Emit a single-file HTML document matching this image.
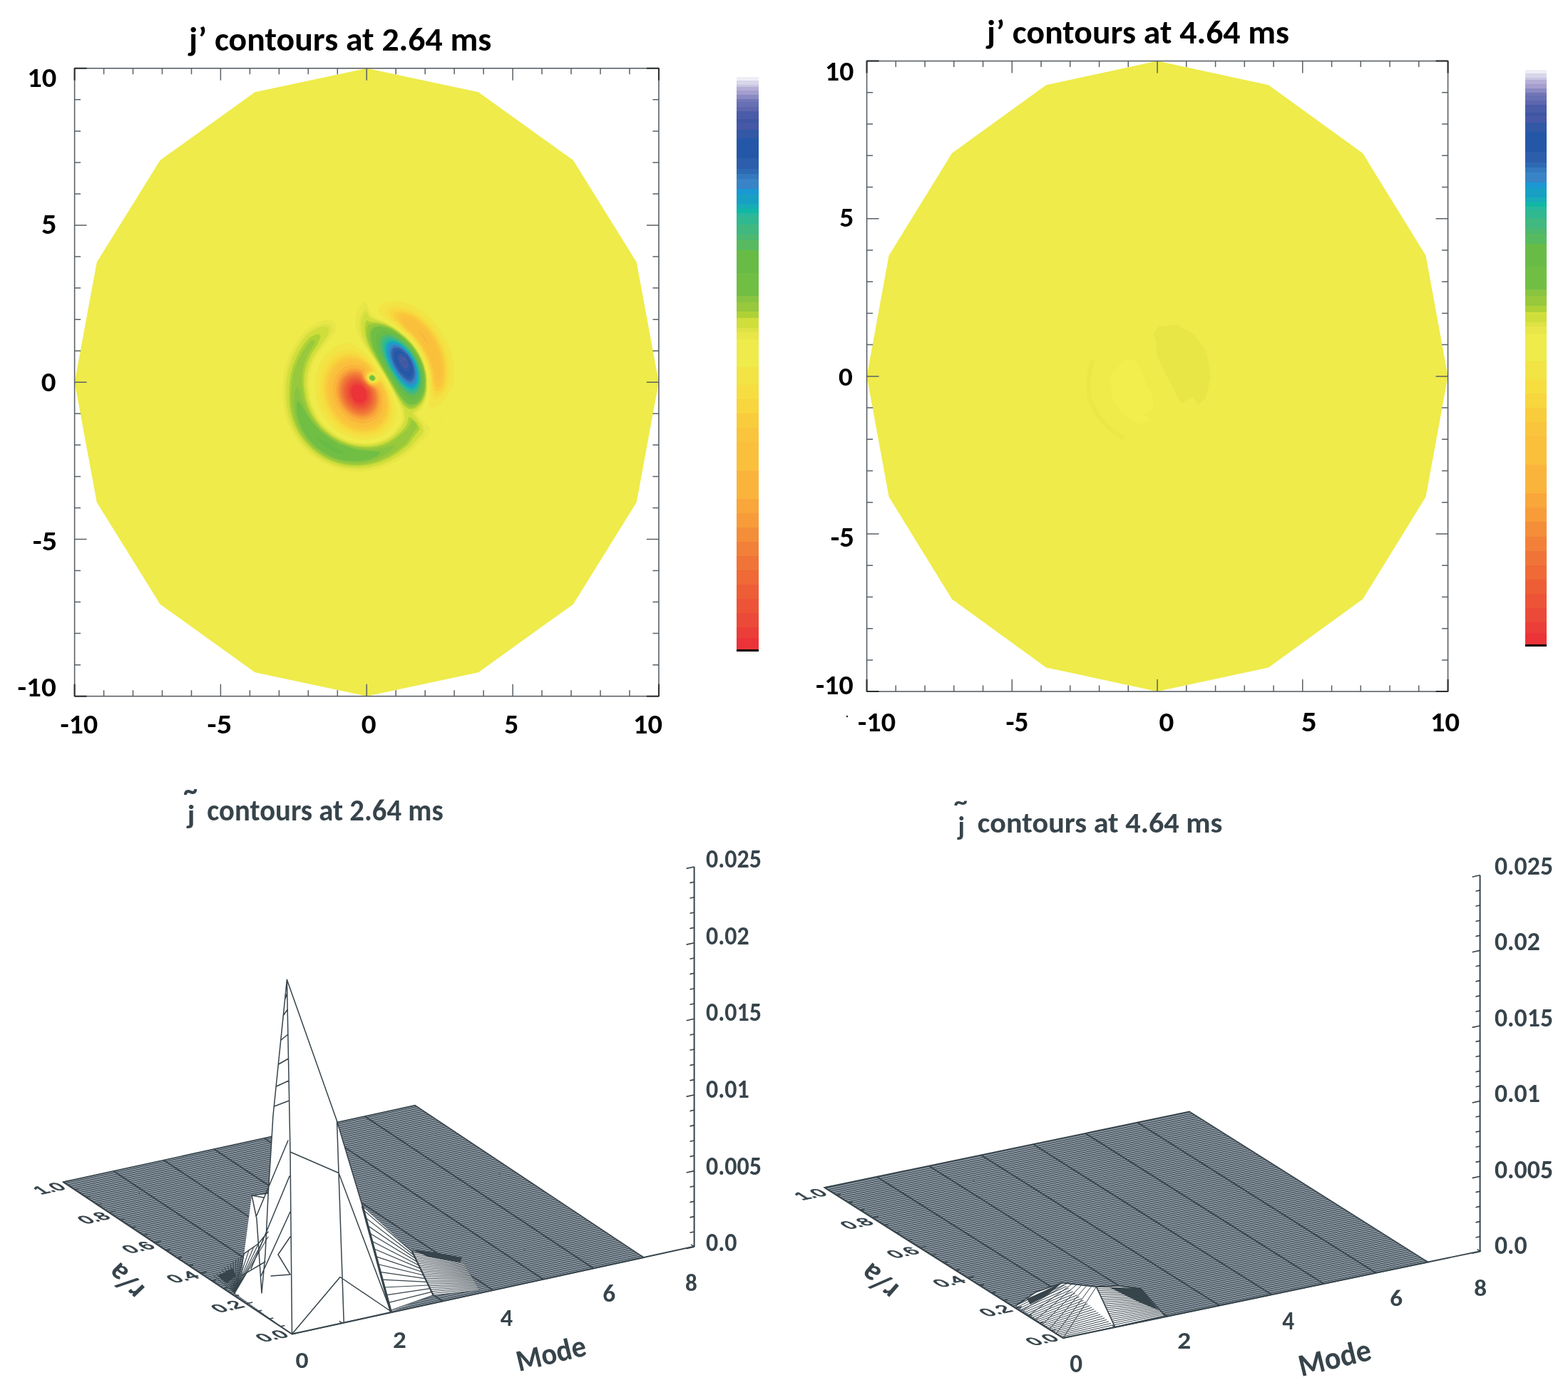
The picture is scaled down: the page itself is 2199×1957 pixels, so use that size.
<!DOCTYPE html><html><head><meta charset="utf-8"><title>j contours</title><style>html,body{margin:0;padding:0;background:#fff;width:2199px;height:1957px;overflow:hidden}svg{display:block;font-family:Carlito, 'Liberation Sans', sans-serif;font-weight:bold}</style></head><body>
<svg width="2199" height="1957" viewBox="0 0 2199 1957">
<rect width="2199" height="1957" fill="#fff"/>
<polygon points="514.2,95.8 357.5,129.3 224.6,224.8 135.8,367.7 104.6,536.2 135.8,704.8 224.6,847.7 357.5,943.2 514.2,976.7 671,943.2 803.9,847.7 892.7,704.8 923.9,536.3 892.7,367.7 803.9,224.8 671,129.3" fill="#EEEB4A"/>
<path d="M498.0 539.8l4 -0.5 4 1.3 4.3 3.4 1.7 2.3 1.8 3.7 0.7 6 -0.9 4 -1.6 2.5 -4 2.7 -4 0.4 -4.6 -1.6 -3.4 -2.8 -3.2 -5.2 -1.1 -6 0.6 -4 2.4 -4 3.3 -2.2z" fill="#EC3338" stroke="#EC3338" stroke-width="0.7" fill-rule="evenodd"/>
<path d="M496.0 538.0l2 -0.8 4 -0.2 4 1.3 6 5.2 3 4.5 1.5 6 -0.5 5.7 -2.2 4.3 -3.8 3.1 -4 0.9 -6 -1.2 -4.1 -2.8 -4.4 -6 -1.8 -6 0.3 -6 2 -4.5 4 -3.5zM497.5 540.0l-3.5 2.8 -2.2 5.2 0.2 5.4 1.7 4.6 4.3 5.1 4 2.1 4 0.4 4 -1.3 2.4 -2.3 1.8 -4 0.1 -6 -1.3 -4 -3 -4.3 -4 -3.1 -4 -1.3 -4.5 0.7z" fill="#EC3E38" stroke="#EC3E38" stroke-width="0.7" fill-rule="evenodd"/>
<path d="M494.0 535.8l4 -1.5 4 0 2 0.5 2 1 4 3.2 6.2 7 2.3 6 0.4 4 -0.4 4 -2.5 5.7 -4 3.6 -2 0.9 -4 0.6 -6 -1.2 -6 -4 -4.2 -5.6 -2.2 -6 -0.4 -4 0.2 -4 2.3 -6 4.3 -4.2zM495.9 538.0l-3.9 3.5 -2 4.5 -0.3 6 1.8 6 4.4 6 4.1 2.8 6 1.2 4 -0.9 3.8 -3.1 2.2 -4.3 0.5 -5.7 -1.5 -6 -3 -4.5 -6 -5.2 -2 -0.9 -4 -0.5 -4.1 1.1z" fill="#EC4A38" stroke="#EC4A38" stroke-width="0.7" fill-rule="evenodd"/>
<path d="M498.0 531.7l4 0.1 2 0.6 4 2.8 8.7 8.8 1.6 2 1.8 4 0.9 8 -1.3 6 -1.7 3.2 -2 2.4 -3.5 2.4 -2.5 0.9 -6 0.3 -4 -1 -4 -2.1 -4 -3.4 -2.2 -2.7 -2.4 -4 -1.5 -4 -1 -8 0.6 -4 1.4 -4 2.7 -4 2.3 -2 2.1 -1.2 4 -1.1zM493.7 536.0l-4 4 -2.3 6 -0.2 4 0.4 4 2.2 6 4.2 5.6 6 4 6 1.2 4 -0.6 2 -0.9 4 -3.6 2.5 -5.7 0.4 -4 -0.4 -4 -2.3 -6 -6.2 -7 -4 -3.2 -2 -1 -2 -0.5 -4 0 -4.3 1.7z" fill="#ED5437" stroke="#ED5437" stroke-width="0.7" fill-rule="evenodd"/>
<path d="M496.0 529.5l6 0 4 1.9 12.5 12.6 1.6 2 1.9 4 1 8 -0.4 4 -1.3 4 -3.3 5 -2 1.8 -4 2.1 -4 0.9 -4 -0.2 -4 -1 -4 -1.9 -4 -3.1 -3.3 -3.6 -2.5 -4 -1.8 -4 -1.1 -4 -0.5 -6 0.4 -4 1.2 -4 3.7 -6 3.9 -3 4 -1.5zM496.3 532.0l-4.3 1.9 -2 1.7 -2 2.4 -2 4 -0.9 4 -0.2 4 1.7 8 1.9 4 2.9 4 2.6 2.6 4 2.7 4 1.5 4 0.6 6 -1.2 3.5 -2.2 1.9 -2 3 -6 0.6 -4 -0.1 -4 -1.6 -6 -2.6 -4 -10.7 -10.5 -4 -1.7 -5.7 0.2z" fill="#EE5E36" stroke="#EE5E36" stroke-width="0.7" fill-rule="evenodd"/>
<path d="M494.0 527.6l6 -0.6 4 1 2 1.3 7.3 8.7 6.9 6 2.9 4 1.2 4 0.6 6 -1.3 8 -3.6 6.2 -2 2 -4 2.5 -4 1.2 -4 0.2 -6 -1.2 -4 -1.8 -4 -2.8 -4 -4 -2.9 -4.3 -2 -4 -1.3 -4 -1 -6 0.3 -6 0.9 -4 2 -4.3 2.8 -3.7 3.2 -2.6 4 -1.8zM494.4 530.0l-3.9 2 -2.5 2.1 -2 2.7 -2 4.2 -1.1 5 -0.1 4 1.6 8 1.8 4 2.5 4 3.3 3.6 4 3.1 4 1.9 4 1 4 0.2 4 -0.9 4 -2.1 2 -1.8 2.3 -3 1.7 -3.9 0.9 -4.1 0.1 -4 -0.5 -4 -1.2 -4 -2.8 -4 -12.5 -12.6 -2 -1.2 -4 -1 -5.6 0.8z" fill="#EF6A37" stroke="#EF6A37" stroke-width="0.7" fill-rule="evenodd"/>
<path d="M492.0 525.9l4 -1.1 4 0 4 1 2 1.3 6.5 8.9 3.5 3.5 5.9 4.5 2.9 4 1.3 4 0.6 6 -0.5 6 -1.2 4 -2.1 4 -2.9 3.5 -6 3.7 -4 1 -4 0.2 -6 -1.2 -4 -1.7 -5.1 -3.5 -4 -4 -2.9 -4 -3 -6 -1.2 -4 -1 -6 0.2 -6 1 -4.6 1.3 -3.4 2.7 -4.2 4 -3.8 4 -2.1zM493.0 528.0l-3.8 2 -3.2 2.9 -2.2 3.1 -1.8 4 -0.9 4 -0.3 6 1 6 1.3 4 2 4 2.9 4.3 4 4 4 2.8 4 1.8 6 1.2 4 -0.2 4 -1.2 4 -2.5 2 -2 3.6 -6.2 1.3 -8 -0.6 -6 -1.2 -4 -2.9 -4 -6.9 -6 -7.3 -8.7 -2 -1.3 -4 -1 -4 0.2 -3 0.8z" fill="#F07438" stroke="#F07438" stroke-width="0.7" fill-rule="evenodd"/>
<path d="M492.0 523.4l4 -0.8 4 0 4 1 2 1.2 2 2.4 2.5 4.8 2.8 4 2.7 2.7 7.6 5.3 3 4 1.2 4 0.7 6 -0.4 6 -0.9 4 -1.8 4 -2.8 4 -2.6 2.5 -4 2.4 -4 1.3 -6 0.4 -6 -1.2 -4 -1.6 -5.8 -3.8 -4.1 -4 -3 -4 -3.3 -6 -2 -6 -0.9 -6 0.1 -6 1.3 -6 2.8 -6 2.9 -3.6 4 -3.2 4 -1.8zM491.7 526.0l-3.7 2 -4 3.8 -2.7 4.2 -1.5 4 -0.8 4 -0.2 6 1 6 2.1 6 2.1 4 4 5.2 4 3.7 4 2.6 4 1.7 6 1.2 4 -0.2 4 -1 6 -3.7 2.9 -3.5 2.1 -4 1.2 -4 0.5 -6 -0.6 -6 -1.3 -4 -2.9 -4 -5.9 -4.5 -3.5 -3.5 -6.5 -8.9 -2 -1.3 -4 -1 -4 0 -4.3 1.2z" fill="#F28038" stroke="#F28038" stroke-width="0.7" fill-rule="evenodd"/>
<path d="M490.0 521.7l4 -1.1 4 -0.3 4 0.5 4 1.6 2 2.1 3.2 7.5 2.9 4 3.9 3.5 7.4 4.5 2.8 4 1.6 6 0.5 6 -0.6 6 -1.1 4 -1.9 4 -2.9 4 -3.8 3.3 -4 2.1 -4 1.1 -6 0.3 -6 -1.1 -6 -2.7 -6 -4.3 -4 -4.2 -3.2 -4.5 -3 -6 -2 -6 -0.9 -6 0 -6 1.2 -6 2.4 -6 2.8 -4 4.4 -4 4.3 -2.3zM490.5 524.0l-4.5 2.6 -3.4 3.4 -2.7 4 -2.2 6 -0.7 4 -0.1 6 0.9 6 2 6 3.3 6 3 4 4.1 4 5.8 3.8 4 1.6 6 1.2 6 -0.4 4 -1.3 4 -2.4 2.6 -2.5 2.8 -4 1.8 -4 0.9 -4 0.4 -6 -0.7 -6 -1.2 -4 -3 -4 -7.6 -5.3 -2.7 -2.7 -2.8 -4 -2.5 -4.8 -2 -2.4 -4 -1.9 -4 -0.4 -4 0.4 -3.5 1.1z" fill="#F48E38" stroke="#F48E38" stroke-width="0.7" fill-rule="evenodd"/>
<path d="M490.0 519.2l4 -0.9 4 -0.2 4 0.5 4 1.5 2.2 1.9 2.8 8 3.7 6 3.3 2.9 9.4 5.1 2.5 4 1.6 6 0.6 6 -0.5 6 -0.9 4 -1.6 4 -3.1 4.9 -4 3.8 -4 2.4 -6 1.8 -6 0.2 -6 -1.2 -6 -2.5 -5.1 -3.4 -4.9 -4.5 -4.2 -5.5 -3.3 -6 -2.1 -6 -1.5 -8 0.2 -8 1.4 -6 2.6 -6 2.9 -4 4.5 -4 5.5 -2.8zM489.3 522.0l-3.6 2 -4.4 4 -3.3 5 -2 5.2 -1.1 5.8 0.2 8 1.3 6 2.2 6 3.5 6 3.9 4.7 4 3.6 6 3.8 6 2.1 6 0.7 6 -0.9 4 -1.5 4 -2.7 3.4 -3.8 2.4 -4 1.4 -4 0.8 -4 0.2 -6 -0.8 -6 -1.2 -4 -2.8 -4 -7.4 -4.5 -3.9 -3.5 -2.9 -4 -3.2 -7.5 -2 -2.1 -4 -1.6 -4 -0.5 -4 0.3 -4.7 1.4z" fill="#F89C3A" stroke="#F89C3A" stroke-width="0.7" fill-rule="evenodd"/>
<path d="M494.0 515.9l8 0.5 6 2.6 2 2.5 1.7 8.5 2 4 4.3 4.2 8.4 3.8 2.9 2 1.4 2 1.5 4 1.2 6 0.4 6 -0.6 6 -1.7 6 -2.1 4 -3.4 4.3 -4 3.3 -6 2.8 -6 1 -6 -0.3 -8 -2.3 -6 -3.4 -6 -5 -4 -4.7 -4 -6.3 -3.1 -7.4 -1.8 -8 -0.3 -8 0.9 -6 2.3 -6.8 3 -5.2 5 -5.1 6 -3.5 6 -1.5zM488.0 520.0l-6 4 -3.6 4 -2.4 4.1 -2.1 5.9 -1 6 0 6 1.5 8 2.1 6 3.3 6 4.2 5.5 4.9 4.5 5.1 3.4 6 2.5 6 1.2 6 -0.2 6 -1.8 4 -2.4 4 -3.8 3.1 -4.9 1.6 -4 0.9 -4 0.5 -6 -0.6 -6 -1.6 -6 -2.5 -4 -9.4 -5.1 -3.3 -2.9 -3.7 -6 -2.8 -8 -2.2 -1.9 -4 -1.5 -4 -0.5 -6 0.6 -4 1.3z" fill="#F9A63A" stroke="#F9A63A" stroke-width="0.7" fill-rule="evenodd"/>
<path d="M586.0 463.1l2 0.9 4 3.8 6 7.7 4 7.4 0 2.7 -16.3 -21.6 0.3 -0.9zM490.0 511.6l4 -0.5 6 0.4 6 1.7 4.8 2.8 1.8 2 0.6 2 -0.7 8 1.1 4 1.2 2 3.2 3.2 2 1.2 10 2.7 1.4 0.9 1.6 2 1.8 4 2 8 0.6 6 -0.5 8 -1.5 6 -3 6 -4.4 5.2 -4 3.1 -6 2.7 -6 1.2 -8 -0.2 -8 -2.3 -6 -3 -6 -4.4 -6 -6.3 -5.3 -8 -3.5 -8 -2.1 -8 -0.7 -8 0.7 -8 2.3 -8 3.1 -6 5.5 -6.3 6 -4 6 -2.1zM493.7 516.0l-5.7 1.4 -6 3.5 -5 5.1 -3 5.2 -2.3 6.8 -0.9 6 0.3 8 1.8 8 3.1 7.4 4 6.3 4 4.7 6 5 6 3.4 8 2.3 6 0.3 6 -1 6 -2.8 4 -3.3 3.4 -4.3 2.1 -4 1.7 -6 0.6 -6 -0.4 -6 -1.2 -6 -1.5 -4 -1.4 -2 -2.9 -2 -8.4 -3.8 -4.3 -4.2 -2 -4 -1.7 -8.5 -2 -2.5 -6 -2.6 -4 -0.5 -4.3 0.1z" fill="#FAB43C" stroke="#FAB43C" stroke-width="0.7" fill-rule="evenodd"/>
<path d="M566.0 445.0l2 -0.4 4 0.2 6 1.6 8 5.6 6 5.3 6.3 6.7 5.7 7.5 4.1 6.5 6.4 14 2.5 8 1.6 8 0.7 8 -0.2 6 -1.1 6.8 -2 4.6 -2 0.8 -2 -2.9 -7.3 -23.3 -4.2 -10 -4.1 -8 -5 -8 -6 -8 -7.4 -7.9 -8 -7.2 -3.7 -4.9 -2.2 -4 -0.4 -2 0.6 -2 1.7 -1zM585.7 464.0l16.3 21.6 0 -2.7 -2 -4.1 -6 -8.8 -6 -6 -2 -0.9 -0.3 0.9zM490.0 506.0l6 -0.2 6 1.1 6 2.5 6.7 4.6 1.8 2 0.7 2 -0.4 2 -2.3 4 -0.9 4 1 4 1.3 2 2.1 2.1 4 2.1 10 0.5 2 1.3 2.5 4 2.2 6 1.9 8 0.8 8 -0.7 8 -1.7 6 -3 6 -4 4.9 -6 4.7 -6 2.7 -8 1.5 -8 -0.4 -8 -2.1 -8 -4 -8 -6.1 -6.5 -7.2 -5.1 -8 -4.2 -10 -1.9 -8 -0.8 -10 1.2 -10 2.6 -8 4.7 -8 6 -6 6 -3.7 8 -2.3zM488.4 512.0l-6.4 2.7 -6 4.9 -4.7 6.4 -2.7 6 -1.8 8 -0.3 8 1 8 2.4 8 3.9 8 5.9 8 6.3 5.9 6 3.9 6 2.7 8 1.7 8 -0.2 6 -1.7 6 -3.4 4 -3.7 3.6 -5.2 2.4 -6 1.2 -6 0.1 -8 -1.3 -8 -2 -6 -2.6 -4 -1.4 -0.9 -10 -2.7 -2 -1.2 -3.2 -3.2 -1.2 -2 -1.1 -4 0.7 -8 -0.6 -2 -2.6 -2.6 -4 -2.2 -6 -1.7 -6 -0.4 -5.6 0.9z" fill="#FAC03C" stroke="#FAC03C" stroke-width="0.7" fill-rule="evenodd"/>
<path d="M560.0 441.6l4 -1 6 0.6 8 2.5 4.2 2.3 7.8 6.1 8 7.9 6.5 8 6.3 10 4 8 3.7 10 2.1 8 1.4 10 0.2 10 -1.1 8 -2.3 8 -1.1 2 -1.7 1.3 -2 0.5 -2 -0.9 -2.1 -2.9 -2.6 -16 -2.6 -10 -3.5 -10 -5.7 -12 -4.8 -8 -6.7 -8.9 -6.6 -7.1 -8.9 -8 -8.3 -10 -2.1 -4 -0.1 -2 2 -2.4zM564.3 446.0l-0.6 2 0.4 2 3.6 6 2.3 2.9 8 7.2 7.4 7.9 9.9 14 5.2 10 4.2 10 7.3 23.3 2 2.9 2 -0.8 2 -4.6 1.1 -6.8 0.2 -6 -0.7 -8 -1.6 -8 -2.5 -8 -6.5 -14.1 -5.1 -7.9 -6.4 -8 -6.5 -6.6 -8 -6.5 -4 -2.5 -6 -1.6 -4 -0.2 -3.7 1.4zM486.0 503.5l6 -0.8 8 0.9 8 3.2 6 3.9 4 3.9 1.7 3.4 -0.8 2 -2.9 2.9 -1.5 3.1 -0.1 4 1.6 3.5 2.5 2.5 3.5 1.7 4 0.4 6 -1.1 2 0.7 3.2 4.3 2.5 6 2.7 10 1 8 -0.3 8 -1.3 6 -3.7 8 -4.1 5.2 -6 4.8 -6 2.8 -8 1.8 -8 0 -10 -2.3 -8 -3.7 -8 -5.8 -6.7 -6.8 -5.7 -8 -4.8 -10 -2.9 -10 -1.1 -10 0.6 -10 2.7 -10 4.1 -8 5.8 -6.9 6 -4.4 8 -3.2zM489.9 506.0l-7.9 2.3 -6 3.7 -6 6 -4.7 8 -2.6 8 -1.2 10 0.8 10 1.9 8 4.2 10 5.1 8 6.5 7.2 8 6.1 8 4 8 2.1 8 0.4 8 -1.5 6 -2.7 6 -4.7 4 -4.9 3 -6 1.7 -6 0.7 -8 -0.8 -8 -1.9 -8 -2.2 -6 -2.5 -4 -2 -1.3 -10 -0.5 -4 -2.1 -2.1 -2.1 -1.3 -2 -1 -4 0.9 -4 2.3 -4 0.4 -2 -0.7 -2 -1.8 -2 -6.7 -4.6 -6 -2.5 -6 -1.1 -6.1 0.2z" fill="#FAC43C" stroke="#FAC43C" stroke-width="0.7" fill-rule="evenodd"/>
<path d="M556.0 437.6l6 -0.7 6 0.8 8 2.4 7.6 3.9 8.4 6.7 8 8 7.4 9.3 6.2 10 4.7 10 3.4 10 2.2 10 1 10 -0.5 12 -2 10 -0.6 2 -1.8 2.8 -4 3.8 -2 0.7 -2 -0.4 -2 -2 -2 -4.4 -2.2 -16.5 -2.3 -10 -4 -12 -4.6 -10 -6.1 -10 -6.8 -8.9 -6 -6.3 -8 -7 -11.3 -11.8 -3.1 -4 -1.5 -4 0.5 -2 1.4 -1.5 2 -0.9zM559.3 442.0l-1.3 2 0.1 2 2.1 4 8.3 10 8.9 8 6.6 7.1 6.7 8.9 4.8 8 5.7 12 3.5 10 2.6 10 2.6 16 2.1 2.9 2 0.9 2 -0.5 1.7 -1.3 1.1 -2 2.3 -8 1.1 -8 -0.2 -10 -1.4 -10 -2.1 -8 -3.7 -10 -4 -8 -6.3 -10 -6.5 -8 -8 -7.9 -8 -6.2 -6 -3 -8 -2.1 -6 0.1 -2.7 1.1zM486.0 499.8l8 -0.4 8 1.8 8 4 6 4.6 4.1 4.2 2.3 4 -0.7 2 -3.7 2.2 -2.9 3.8 -0.3 4 1.2 2.8 2 2.3 2 1.4 4 1 4 -0.6 4 -1.7 2 0.2 2 1.7 1.9 2.9 3.5 8 2.9 10 1.3 8 0 8 -1.5 8 -3.5 8 -4.6 5.9 -6 4.7 -6 3 -8 2 -10 0.2 -10 -2.2 -10 -4.7 -8 -5.8 -8 -8.4 -5.8 -8.7 -4.6 -10 -2.8 -10 -1.2 -12 0.8 -10 2.8 -10 4.8 -9.1 6 -6.9 8 -5.5 8 -2.7zM484.3 504.0l-8.3 4 -6 5.1 -5.1 6.9 -3.6 8 -2.2 10 -0.3 10 1.5 10 3.3 10 5.2 10 6.2 8 7 6.5 8 5.2 8 3.3 10 1.8 8 -0.4 8 -2.4 6 -3.3 6 -5.7 4 -6.4 2.3 -6.6 1.1 -8 -0.3 -8 -2.1 -10 -2.9 -8 -2.1 -4.1 -2 -2.2 -2 -0.7 -6 1.1 -4 -0.4 -3.5 -1.7 -2.1 -2 -2 -4 0.1 -4 1.5 -3.1 2.9 -2.9 0.8 -2 -0.6 -2 -1.6 -2 -5.5 -4.8 -8 -4.3 -6 -1.7 -6 -0.5 -7.7 1.3z" fill="#F9CC3C" stroke="#F9CC3C" stroke-width="0.7" fill-rule="evenodd"/>
<path d="M552.0 433.8l8 -0.6 8 1.3 8 2.7 8 3.9 10 7.9 8.8 9 7.7 10 6 10 4.5 10 3.9 12 2.2 12 0.6 10 -0.6 10 -2.1 10 -4.7 8 -4.3 4 -2 0.9 -2 0.2 -2 -1 -2 -3.3 -2.6 -10.8 -0.9 -12 -3 -14 -4.4 -12 -6.1 -12 -5.3 -8 -6.6 -8 -27.8 -26 -4.6 -6 -0.6 -2 0.2 -2 1.7 -2.3 4 -1.9zM554.9 438.0l-2.3 2 -0.5 2 0.5 2 2.4 4 13 13.8 7.2 6.2 5.8 6 6.4 8 6.4 10 4.9 10 4.3 12 2.4 10 2.6 18.5 2 4.4 2 2 2 0.4 2 -0.7 4 -3.8 1.8 -2.8 0.6 -2 2 -10 0.5 -12 -1.4 -12 -2.4 -10 -3.7 -10 -4.9 -10 -6.5 -9.9 -6.6 -8.1 -8.2 -8 -9.2 -7.1 -8 -3.5 -8 -2.1 -6 -0.4 -5.1 1.1zM484.0 496.0l8 -0.6 8 1.7 8 3.8 8 6.1 6.6 7 2.5 4 0.4 2 -1.5 1 -6 2.2 -2 2.3 -0.8 2.5 0.8 4 1.4 2 2.6 2 4 1 4.2 -1 3.8 -3.1 2 -0.2 2 1.6 2 2.9 5.1 10.8 3.2 10 1.7 10 0.2 8 -1.3 8 -3.5 8 -4.6 6 -6.8 5.5 -6 3 -10 2.5 -10 0.1 -10 -2.1 -10 -4.3 -9.8 -6.7 -7.9 -8 -6.9 -10 -4.7 -10 -3.4 -12 -1.3 -12 1 -12 2.8 -10 5.3 -10 6.9 -7.8 8 -5.5 8 -2.7zM485.3 500.0l-7.3 2.5 -8 5.5 -6 6.9 -4.8 9.1 -2.8 10 -0.8 10 1.2 12 2.8 10 4.6 10 5.8 8.7 8 8.4 8 5.8 10 4.7 10 2.2 10 -0.2 8 -2 6 -3 6 -4.7 4.6 -5.9 3.5 -8 1.5 -8 0 -8 -1.3 -8 -2.9 -10 -3.5 -8 -1.9 -2.9 -2 -1.7 -2 -0.2 -4 1.7 -4 0.6 -4 -1 -2 -1.4 -2 -2.3 -1.2 -2.8 0.3 -4 2.9 -3.8 3.7 -2.2 0.7 -2 -2.3 -4 -4.1 -4.2 -8 -5.8 -8 -3.5 -8 -1.2 -6.7 0.7z" fill="#F8D63E" stroke="#F8D63E" stroke-width="0.7" fill-rule="evenodd"/>
<path d="M548.0 429.9l8 -0.8 10 1.4 10 3.2 10 5.1 11.3 9.2 9.4 10 8.7 12 5.4 10 4.9 12 3.2 12 1.8 14 -0.2 12 -2.1 12 -2.7 6 -5.7 8 -6 4.8 -4 0.8 -2 -1.1 -1.3 -2.5 -1.3 -6 -1.6 -12 -0.8 -12 -1.9 -10 -4.5 -14 -7.1 -14 -7 -10 -6.5 -7.3 -16 -14.4 -14.7 -12.3 -4.9 -6 -0.6 -4 1 -2 3.2 -2.7 4 -1.4zM551.2 434.0l-3.6 2 -1.3 2 -0.2 2 1.8 4 5.4 6 25.8 24 8 10 6.2 10 5.5 12 3.7 12 2.2 12 0.7 10 2.6 10.8 2 3.3 2 1 2 -0.2 2 -0.9 4.3 -4 4.7 -8 2.1 -10 0.6 -10 -0.6 -10 -2.2 -12 -3.9 -12 -5.6 -12 -6.3 -10 -7.1 -8.9 -8 -8.1 -10 -7.9 -8 -3.9 -10 -3.2 -8 -0.9 -6.8 0.9zM480.0 491.6l8 -1.2 8 1.2 8 3.4 10 7.2 10 10.7 3.5 5.1 1.8 4 -1.3 1.8 -6 -1 -4 1.4 -1.6 1.8 -0.7 2 0.8 4 1.4 2 2.1 1.5 2 0.8 4 -0.1 3.4 -2.2 1.3 -2 1.3 -4 2 1.1 4 5.1 6.8 13.8 3.5 10 2.2 10 0.7 10 -1.2 8 -3.4 8 -4.5 6 -6.1 5.2 -8 4.3 -10 2.6 -6 0.5 -6 -0.2 -10 -1.9 -11.3 -4.5 -9.3 -6 -9.4 -8.9 -6.7 -9.1 -6.1 -12 -3.6 -12 -1.7 -14 0.7 -12 2.4 -10 5 -10.8 7.1 -9.2 4.9 -4.4 4 -2.6 8 -3.4zM483.9 496.0l-7.9 2.7 -8 5.5 -6.9 7.8 -5.3 10 -2.8 10 -1 12 1.3 12 3.4 12 4.7 10 6.9 10 7.9 8 9.8 6.7 10 4.3 10 2.1 10 -0.1 10 -2.5 6 -3 6.8 -5.5 4.6 -6 3.5 -8 1.3 -8 -0.2 -8 -1.7 -10 -3.2 -10 -5.1 -10.8 -2 -2.9 -2 -1.6 -2 0.2 -3.8 3.1 -4.2 1 -4 -1 -2.6 -2 -1.4 -2 -0.8 -4 0.8 -2.5 2 -2.3 6 -2.2 1.5 -1 -0.4 -2 -2.5 -4 -6.6 -7 -8 -6.1 -8 -3.8 -8 -1.7 -8.1 0.6z" fill="#F6DE40" stroke="#F6DE40" stroke-width="0.7" fill-rule="evenodd"/>
<path d="M544.0 423.6l10 -0.9 12 1.7 12 4.1 12 6.6 12 9.9 10 11 8.4 12 7.2 14 5 14 2.8 14 0.8 14 -1.5 14 -1.5 6 -1.7 4 -6.3 10 -9.2 9.3 -8 5.1 -2 0.5 -2 -0.3 -1.5 -2.6 -0.4 -4 0.4 -18 -0.8 -16 -0.9 -8 -1.8 -8 -2.6 -8 -6.4 -14 -8 -12 -9 -10 -17 -14.5 -19 -13.5 -3.9 -4 -1.2 -2 -0.8 -4 1.5 -4 1.8 -2 3 -2 6.6 -2.4zM547.5 430.0l-4.6 2 -2.1 2 -1 2 0.6 4 4.9 6 14.7 12.3 16 14.4 6.5 7.3 7 10 7.1 14 4.5 14 1.9 10 0.8 12 1.6 12 1.3 6 1.3 2.5 2 1.1 4 -0.8 6 -4.8 4 -5.2 2.7 -4.8 2.6 -8 1.4 -12 -0.3 -12 -1.9 -12 -3.5 -12 -6.2 -14 -6 -10 -7.8 -10 -9 -9.2 -10 -8 -10 -5.1 -10 -3.2 -10 -1.4 -8.5 0.9zM482.0 481.7l2 -0.5 4 0.5 4 1 6 2.6 10 7 10 9.8 10 12.6 12 19 6.2 12.3 4.7 12 3.4 12 1.2 8 -0.4 8 -1.8 6 -4.9 8 -5.9 6 -6.5 4.4 -8 3.6 -6 1.6 -6 0.8 -12 -0.2 -12 -2.6 -12.6 -5.6 -11.3 -8 -8.1 -8.2 -8.1 -11.8 -5.4 -12 -3.1 -12 -1.5 -16 0.5 -8 1 -6 3.8 -12 5.4 -10 5.4 -6.9 4 -4.2 4 -3.4 6 -4 4 -1.9 6 -1.9zM478.6 492.0l-8.6 4.2 -4 3 -4.8 4.8 -3.2 4.1 -3.6 5.9 -4 10 -2.3 12 0 12 1.9 12 4 12 5.3 10 7.5 10 9.2 8.4 10 6.2 10 3.9 12 2.1 6 0 6 -0.8 10 -3.2 7.7 -4.6 6.1 -6 3.9 -6 2.8 -8 0.7 -8 -1 -10 -2.5 -10 -4.6 -12 -5.1 -9.8 -4 -5.1 -2 -1.1 -1.3 4 -1.3 2 -3.4 2.2 -4 0.1 -2 -0.8 -2.1 -1.5 -1.4 -2 -0.8 -4 0.7 -2 1.6 -1.8 4 -1.4 6 1 1.3 -1.8 -1.8 -4 -3.5 -5.1 -6 -6.8 -6 -5.6 -8 -5.5 -8 -3.4 -8 -1.2 -4 0.3 -5.4 1.3zM521.7 524.0l-1.7 0.2 -2.6 1.8 -1 2 -0.1 2 0.7 2 1.7 2 3.3 1.7 2 0.2 2 -0.6 1.9 -1.3 1.2 -2 0.2 -2 -0.5 -2 -2.8 -2.9 -4.3 -1.1z" fill="#F2E444" stroke="#F2E444" stroke-width="0.7" fill-rule="evenodd"/>
<path d="M512.0 423.7l2 2.4 4 11 3.2 4.9 5.6 4 15.2 6.8 8 4.5 8 5.4 8.9 7.3 7.1 6.5 6 6.9 6 8.6 4 7.1 4.7 10.9 3.3 12 1.3 10 0 16 -1.1 8 -2.5 8 -3.7 6.9 -7.7 9.1 0.1 2 7.6 8.2 8.8 7.8 1.5 2 0.5 2 -1.3 4 -3.2 6 -18.7 18 -11.6 9.1 -12 7.5 -14 6.6 -10 3.5 -8 2 -16 2.2 -14 -0.1 -12 -1.6 -10 -2.5 -10 -3.5 -10 -4.8 -10 -6.2 -8 -6.2 -8 -7.6 -7.2 -8.4 -5.6 -8 -5.5 -10 -4.3 -10 -3.1 -10 -1.8 -8 -1.6 -12 -0.4 -18 0.4 -10 2.5 -16 2.2 -8 3.5 -10 8.1 -16 9.9 -14 4.9 -5.2 6 -5 12 -7.4 6 -2.5 6 -1.4 4 0 4 1.4 2 1.7 1.5 2.4 1.3 4 0.1 4 -1.3 4 -2.6 4 -13 15.2 -10.6 14.8 -5.9 12 -3.5 12.7 -1 7.3 -0.1 8 1.7 16 3 12 5.2 12 4.9 8 4.6 6 5.7 6 6.9 6 5.7 4 7.4 4.2 8 3.5 8 2.5 8 1.6 8 0.6 8 -0.2 8 -1.3 8 -2.4 6 -2.7 6 -3.7 5 -4.1 8.8 -10 2.3 -4 1.4 -4 0.7 -4 -0.1 -4 -2.4 -10 -10 -22 -8.2 -16 -13.5 -22.1 -23.2 -33.9 -4.1 -8 -3.1 -10 -0.8 -6 0.1 -6 2 -10 4 -8 3.1 -3.5 4 -2.8zM511.9 434.0l-4.2 6 -1.7 4.2 -1.3 5.8 -0.4 6 0.4 6 2.5 10 3.5 8 3.4 6 17.9 27.4 11.2 18.6 21.9 42 1.7 10 -0.2 4 -1 4 -1.8 4 -2.6 4 -9.6 10 -5.6 4.3 -6 3.4 -6 2.6 -8 2.2 -8 1.2 -8 0.2 -8 -0.7 -8 -1.6 -8 -2.4 -7.6 -3.2 -7.3 -4 -7.1 -4.8 -6.2 -5.2 -6 -6 -4.8 -6 -5.2 -8 -5.6 -12 -3.4 -12 -2.1 -18 0.7 -14 2.9 -12 5.1 -12 4.6 -7.4 16.5 -22.6 3.6 -6 1.1 -4 -0.1 -2 -1.1 -2.6 -2 -1.8 -4 -1 -4 0.3 -4 1 -6 2.6 -6 3.6 -6 4.4 -3.9 3.5 -3.4 4 -9.5 14 -6.8 14 -5.2 16 -2.7 16 -0.4 10 0.2 16 0.9 10 1.9 10 3.7 12 3.4 8 5.4 10 5.5 8 6.7 8 8.2 7.8 6 4.8 10 6.5 8 4 10 3.9 10 2.7 12 1.8 14 0.4 14 -1.7 14 -3.6 14 -5.7 14 -8 14 -10.6 18 -19.3 0.8 -3 0 -4 -2.4 -6 -10.4 -14.3 -2.3 -1.7 8.3 -7 4 -5 4 -8 2.3 -10 0.4 -16 -0.9 -10 -3 -12 -4 -10 -4.3 -8 -5.3 -8 -6.7 -8 -6.5 -6.3 -10 -8.1 -10 -6.5 -8 -4 -18.3 -7.1 -4.2 -4 -3.5 -8.2 -2.1 0.2zM520.0 525.6l2 -0.2 2 0.5 2.5 2.1 0.8 2 -0.1 2 -1.3 2 -1.9 0.8 -2 0 -2 -0.7 -2 -2.1 -0.7 -2 0.2 -2 2.5 -2.4zM519.9 526.0l-2.1 2 -0.3 2 0.8 2 1.7 1.8 2 0.8 3.2 -0.6 1.6 -2 0.1 -2 -0.9 -2 -3 -2 -3.1 0zM620.0 589.2l1.8 0.8 -1.8 2.3 -1.1 -0.3 1.1 -2.8z" fill="#E8E648" stroke="#E8E648" stroke-width="0.7" fill-rule="evenodd"/>
<path d="M512.0 433.9l2 -0.1 3.5 8.2 4.2 4 18.3 7.1 8 4 10 6.5 10 8.1 6.5 6.3 6.7 8 5.3 8 4.3 8 4 10 3 12 0.9 10 -0.4 16 -2.3 10 -4 8 -4 5 -8.3 7 2.3 1.7 10.4 14.3 2.4 6 0 4 -0.8 3 -18 19.3 -14 10.6 -14 8 -14 5.7 -14 3.6 -14 1.7 -14 -0.4 -12 -1.8 -10 -2.7 -10 -3.9 -8 -4 -10 -6.5 -6 -4.8 -8.2 -7.8 -6.7 -8 -5.5 -8 -5.4 -10 -3.4 -8 -3.7 -12 -1.9 -10 -0.9 -10 -0.2 -16 0.4 -10 2.7 -16 5.2 -16 6.8 -14 9.5 -14 3.4 -4 3.9 -3.5 6 -4.4 6 -3.6 6 -2.6 4 -1 4 -0.3 4 1 2 1.8 1.1 2.6 0.1 2 -1.1 4 -3.6 6 -16.5 22.6 -4.6 7.4 -5.1 12 -2.9 12 -0.7 14 2.1 18 3.4 12 5.6 12 5.2 8 4.8 6 6 6 6.2 5.2 7.1 4.8 7.3 4 7.6 3.2 8 2.4 8 1.6 8 0.7 8 -0.2 8 -1.2 8 -2.2 6 -2.6 6 -3.4 5.6 -4.3 9.6 -10 2.6 -4 1.8 -4 1 -4 0.2 -4 -1.7 -10 -21.9 -42 -11.2 -18.6 -17.9 -27.4 -3.4 -6 -3.5 -8 -2.5 -10 -0.4 -6 0.4 -6 1.3 -5.8 1.7 -4.2 4.3 -6.1zM513.4 438.0l-2.8 4 -1.8 4 -1.8 8 0.2 10 1.3 6 2 6 7.1 14 24.9 40 17.5 32.9 7.1 11.1 0.6 2 0.8 10 -0.6 4 -1.3 4 -2.2 4 -3 4 -9.4 9.3 -6 4.4 -6 3.2 -6 2.4 -8 2.2 -8 1.1 -8 0.1 -8 -0.7 -8 -1.5 -8 -2.4 -8 -3.4 -8 -4.3 -6 -4.1 -6 -4.8 -6 -5.9 -6 -7.2 -4.3 -6.4 -6 -12 -3.7 -12 -2.6 -18 0.3 -14 2.4 -12 4.6 -12 4.5 -8 15.1 -22 3.5 -6 1.1 -4 -0.2 -2 -1.1 -2 -1.6 -1 -2 -0.5 -4 0.1 -4 1.1 -6 2.7 -6 3.8 -6 4.8 -5.8 7 -7.8 12 -6.7 14 -4.5 14 -2.6 14 -0.7 10 0.1 18 0.9 10 1.5 8 2.7 10 3.9 10 4 8 6.5 10 6.5 8 8 7.9 8 6.3 8 5.2 8 4.1 10 4 10 2.7 10 1.6 14 0.6 14 -1.4 14 -3.5 14 -5.6 14 -7.9 14 -10.5 18.7 -21.5 -0.3 -4 -1.2 -4 -3.7 -6 -9.1 -12 -0.1 -2 5.7 -3.1 4 -3.5 2.9 -3.4 4.4 -8 2.2 -8 0.8 -10 0 -10 -0.6 -6 -2.7 -12 -4.6 -12 -4.4 -8.2 -6 -8.8 -6 -7 -8 -7.4 -10 -7.9 -10 -6.1 -8 -3.5 -18 -6.1 -2 -1.6 -2 -2.8 -2 -5.1 -0.6 0.5zM520.0 525.9l2 -0.2 2 0.6 2 1.7 0.9 2 -0.1 2 -1.6 2 -3.2 0.6 -2 -0.8 -1.7 -1.8 -0.8 -2 0.3 -2 2.2 -2.1zM521.4 526.0l-1.4 0.2 -2 1.7 -0.3 2.1 0.8 2 1.5 1.6 2 0.8 2 0 2.6 -2.4 0.1 -2 -1 -2 -1.7 -1.4 -2.6 -0.6z" fill="#DEE244" stroke="#DEE244" stroke-width="0.7" fill-rule="evenodd"/>
<path d="M514.0 437.5l2 5.1 2 2.8 2 1.6 18 6.1 8 3.5 10 6.1 11.7 9.3 6.3 6 6.7 8 5.4 8 4.3 8 4.6 12 2.7 12 0.6 6 0 10 -0.8 10 -2.2 8 -4.4 8 -2.9 3.4 -4 3.5 -5.7 3.1 0.1 2 9.1 12 3.7 6 1.2 4 0.3 4 -18.7 21.5 -14 10.5 -14 7.9 -14 5.6 -14 3.5 -14 1.4 -14 -0.6 -10 -1.6 -10 -2.7 -10 -4 -8 -4.1 -8 -5.2 -8 -6.3 -8 -7.9 -6.5 -8 -6.5 -10 -4 -8 -3.9 -10 -2.7 -10 -1.5 -8 -0.9 -10 -0.1 -18 0.7 -10 2.6 -14 4.5 -14 6.7 -14 7.8 -12 5.8 -7 6 -4.8 6 -3.8 6 -2.7 4 -1.1 4 -0.1 2 0.5 1.6 1 1.1 2 0.2 2 -1.1 4 -3.5 6 -15.1 22 -4.5 8 -4.6 12 -2.4 12 -0.3 14 2.6 18 3.7 12 6 12 4.3 6.4 6 7.2 6 5.9 6 4.8 6 4.1 8 4.3 8 3.4 8 2.4 8 1.5 8 0.7 8 -0.1 8 -1.1 8 -2.2 6 -2.4 6 -3.2 6 -4.4 9.4 -9.3 3 -4 2.2 -4 1.3 -4 0.6 -4 -0.8 -10 -0.6 -2 -7.1 -11.1 -17.5 -32.9 -24.9 -40 -7.1 -14 -2 -6 -1.3 -6 -0.2 -10 1.2 -6 1.4 -4 2.2 -4 2.2 -2.5zM513.3 452.0l-1.5 8 0.4 8 1.7 8 3.1 8 6.3 12 19.3 32 17.4 31.2 6 8.8 2 2.2 4 3 2 0.6 4 0.1 6 -2.5 6 -5.5 4 -6.8 2.2 -7.1 1.2 -10 -0.1 -12 -2 -12 -4 -12 -5.3 -10.5 -6.3 -9.5 -7.7 -8.8 -12 -10.2 -8 -5.6 -8 -4.2 -10 -3.5 -14 -1.9 -2 -0.4 -2 -1.4 -2 0.1 -0.7 1.9zM441.2 470.0l-5.2 2.7 -4 3.3 -8 10.7 -6 10.2 -4.2 9.1 -3.8 11.2 -2.1 8.8 -1.5 10 -0.6 26 1 10 2.1 10 2.4 8 4.2 10 5.6 10 5.7 8 7.2 8 6 5.5 8 6 8 4.8 10 4.6 8 2.7 10 2.3 10 1.2 10 0.2 8 -0.7 10 -1.8 9.6 -2.8 8.4 -3.3 9.2 -4.7 9.6 -6 8.1 -6 6.6 -6 14.9 -20 -1.3 -4 -4 -6 -5.1 -4.9 -4 -2.1 -0.9 1 -0.5 4 -1.2 4 -3.5 6 -5.5 6 -10.4 9.1 -8 4.9 -8 3.4 -8 2.1 -10 1.3 -10 -0.1 -10 -1.3 -10 -2.6 -10 -3.9 -9.1 -4.9 -8.7 -6 -6.9 -6 -7.4 -8 -8.3 -12 -6.3 -14 -3.1 -12 -2.3 -18 0.1 -8 0.9 -8 3.9 -14 5.7 -12 7.5 -11 4.9 -11 0.2 -2 -1.1 -2.5 -2 -0.6 -4.8 1.1zM522.0 525.9l2 0.7 1.7 1.4 1 2 -0.1 2 -2.6 2.4 -2 0 -2 -0.8 -1.5 -1.6 -0.8 -2 0.3 -2.1 2 -1.7 2 -0.3zM518.6 528.0l-0.6 2 2 3.1 2 1 2 -0.2 2 -1.9 0.1 -2 -2.1 -2.8 -2 -0.7 -2 0.2 -1.4 1.3z" fill="#D0DE3C" stroke="#D0DE3C" stroke-width="0.7" fill-rule="evenodd"/>
<path d="M514.0 450.1l2 -0.1 2 1.4 2 0.4 10 1.1 8 2 8 3.2 8 4.5 12 9.2 8 7.5 7.1 8.7 6.3 10 5.4 12 3.4 12 1.2 10 -0.3 14 -1.9 10 -3.2 7 -4 5.1 -6 4.5 -6 1.5 -4 -0.9 -4 -3 -4 -4.8 -6 -9.7 -16.6 -29.7 -20.4 -34 -5.7 -12 -2.8 -10 -0.7 -10 0.9 -6 1.3 -3.9zM515.9 456.0l-1.4 6 0.2 8 1.8 8 3 8 7.2 14 31.3 53.8 8 11.8 6 5.1 2 0.7 4 0.3 6 -2.2 6 -5.6 4.2 -7.9 2.3 -10 0.4 -12 -0.9 -10 -2.4 -10 -3.8 -10 -5.3 -10 -6.5 -9.2 -8 -8.7 -12 -9.9 -8 -5.1 -10 -4.5 -8 -1.9 -8 -0.3 -8.1 1.6zM442.0 469.7l4 -0.8 2 0.6 1.1 2.5 -0.2 2 -4.9 11 -7.5 11 -5.7 12 -3.9 14 -1.1 14 0.6 8 1.8 12 3.1 12 5.2 12 7.8 12 6.9 8 8.8 7.8 8.9 6.2 9.1 4.9 10 3.9 10 2.6 10 1.3 10 0.1 10 -1.3 8 -2.1 8 -3.4 8 -4.9 10.4 -9.1 5.5 -6 3.5 -6 1.2 -4 0.5 -4 0.9 -1 4 2.1 5.1 4.9 4 6 1.3 4 -16.4 21.7 -7.7 6.3 -8.5 6 -9.8 5.7 -9.1 4.3 -8.9 3.2 -8 2 -10 1.6 -10 0.5 -10 -0.5 -10 -1.6 -8 -2.2 -10 -3.8 -8 -4 -8 -5.1 -7.7 -6.1 -6.3 -6.1 -6.7 -7.9 -5.5 -8 -5.3 -10 -3.2 -8 -2.9 -10 -1.8 -10 -0.8 -10 0.2 -18 0.7 -8 1.6 -10 3.3 -12 4 -10 4.4 -8.8 5.8 -9.2 6.2 -8 4 -3.3 6 -3zM436.0 478.0l-6 7.4 -6 8.8 -6 11.4 -4 10.1 -2 6.7 -2.4 11.6 -1.4 22 0.1 8 1.1 10 2.1 10 2.6 8 3.5 8 4.4 8 5.5 8 5 6 7.5 7.2 8 6.2 8 5 8 3.9 8 2.9 10 2.6 8 1.2 10 0.5 10 -0.6 8 -1.3 8 -2 9.8 -3.6 8.3 -4 9.9 -6 15.7 -12 14.7 -22 0.3 -2 -0.9 -2 -1.8 -2.5 -4 -3.7 -0.8 0.2 -2.1 6 -4 6 -4.2 4 -14.9 11.9 -6 3.5 -8 3.3 -8 2.1 -10 1.4 -10 0 -10 -1.1 -10 -2.4 -10 -3.6 -10 -5 -8 -5.1 -8 -6.4 -6.6 -6.6 -9.2 -12 -3.6 -6 -3.8 -8 -3.9 -12 -3.4 -20 -0.1 -14 1.1 -8 2 -8 4.7 -12 9.8 -16 0.2 -2 -1.2 -2.4 -2 -0.2 -2 0.6zM520.0 526.7l2 -0.2 2 0.7 2 2.6 0 2.2 -2 1.9 -2.2 0.1 -2.9 -2 -0.9 -2 0.6 -2 1.4 -1.3zM519.0 528.0l-0.6 2 1.6 2.8 2 1 2 -0.3 1.6 -1.5 0.1 -2 -1.7 -2.4 -2 -0.8 -2 0.3 -1 0.9z" fill="#AED236" stroke="#AED236" stroke-width="0.7" fill-rule="evenodd"/>
<path d="M516.0 455.9l8 -1.5 8 0.3 8 1.9 10 4.5 8 5.1 12 9.9 8 8.7 6.5 9.2 5.3 10 3.8 10 2.4 10 0.9 10 -0.4 12 -2.3 10 -4.2 7.9 -6 5.6 -6 2.2 -4 -0.3 -2 -0.7 -6 -5.1 -8 -11.8 -31.3 -53.8 -7.2 -14 -3 -8 -1.8 -8 -0.2 -8 1.5 -6.1zM523.9 458.0l-3.1 2 -2.3 4 -0.6 4 0.4 6 3.3 12 7.8 16 26.6 45.8 6 9.5 4 5.1 4 3.8 4 2.2 4 0.5 6 -2 4 -3.3 2 -2.4 3.6 -7.2 1.9 -8 0.6 -10 -0.3 -8 -1.8 -10 -3.3 -10 -4.8 -10 -6.5 -10 -7.4 -8.8 -8 -7.2 -10 -7.3 -8 -4.3 -8 -2.7 -8 -0.9 -6.1 1.2zM436.0 478.0l2 -0.6 2 0.2 1.2 2.4 -0.2 2 -9.8 16 -4.7 12 -2 8 -1.1 8 0.1 14 3.4 20 3.9 12 3.8 8 3.6 6 9.2 12 6.6 6.6 8 6.4 8 5.1 10 5 10 3.6 10 2.4 10 1.1 10 0 10 -1.4 8 -2.1 8 -3.3 6 -3.5 14.9 -11.9 4.2 -4 4 -6 2.1 -6 0.8 -0.2 4 3.7 1.8 2.5 0.9 2 -0.3 2 -14.7 22 -15.7 12 -9.9 6 -8.3 4 -9.8 3.6 -8 2 -8 1.3 -10 0.6 -10 -0.5 -8 -1.2 -10 -2.6 -8 -2.9 -8 -3.9 -8 -5 -8 -6.2 -7.5 -7.2 -5 -6 -5.5 -8 -4.4 -8 -3.5 -8 -2.6 -8 -2.1 -10 -1.1 -10 -0.1 -8 1.4 -22 2.4 -11.6 2 -6.7 4 -10.1 6 -11.4 6 -8.8 6 -7.4zM415.4 544.0l-1.4 3.6 -1.3 8.4 -0.5 12 2 14 4.5 14 6.3 12 9 12 10 9.6 10 7 12 6 14 4.4 14 1.8 14 -0.4 12.2 -2.4 6.3 -2 9.1 -4 6.8 -4 5.4 -4 5.8 -6 -1.6 -0.9 -16 3.9 -10 1.4 -8 0.4 -10 -0.5 -10 -1.6 -12 -3.3 -10 -4 -8 -4.2 -8 -5.3 -8 -6.4 -7.5 -7.5 -6.5 -8 -6.4 -10 -4.9 -10 -8.7 -25.8 -2 -1.6 -0.6 1.4zM520.0 527.1l2 -0.3 2.5 1.2 1.2 2 -0.1 2 -1.6 1.5 -2 0.3 -2.8 -1.8 -0.8 -2 0.6 -2 1 -0.9zM519.5 528.0l-0.7 2 1.2 2.4 2 0.9 2 -0.4 1 -0.9 0.1 -2 -1.4 -2 -1.7 -0.7 -2.5 0.7z" fill="#98C83C" stroke="#98C83C" stroke-width="0.7" fill-rule="evenodd"/>
<path d="M524.0 457.9l6 -1.1 8 0.9 8 2.7 8 4.3 10 7.3 8 7.2 7.4 8.8 6.6 10.2 4.7 9.8 3.3 10 1.8 10 0.3 8 -0.6 10 -1.9 8 -3.6 7.2 -2 2.4 -4 3.3 -6 2 -4 -0.5 -4 -2.2 -4 -3.8 -4 -5.1 -6 -9.5 -26.6 -45.8 -7.8 -16 -3.3 -12 -0.4 -6 0.6 -4 2.3 -4 3.2 -2.1zM525.2 460.0l-2.4 2 -2.1 4 -0.6 4 0.3 6 1.3 6 2.9 8 7.9 16 23.5 40.2 6 9.2 4 5 4 3.8 4 2.2 4 0.6 2 -0.2 4 -1.6 5.5 -5.2 3.2 -6 2.1 -8 0.7 -12 -0.5 -8 -2.1 -10 -2.9 -8.2 -4.7 -9.8 -6.6 -10 -6.7 -7.9 -6.6 -6.1 -11.4 -8.4 -8 -4.2 -8 -2.5 -8 -0.4 -4.8 1.5zM520.0 527.6l2 -0.3 2 0.9 1.1 1.8 -0.1 2 -1 0.9 -2 0.4 -2.4 -1.3 -0.8 -2 1.2 -2.4zM519.9 528.0l-0.7 2 0.8 2.1 2 0.9 2.5 -1 0.3 -2 -0.8 -1.2 -2 -1.2 -2.1 0.4zM416.0 542.6l2 1.6 2 4.9 3 10.9 4.6 12 4 8 5 8 6.2 8 7.6 8 7.6 6.4 10 6.8 8 4.2 10 4 12 3.3 10 1.6 10 0.5 8 -0.4 10 -1.4 16 -3.9 1.6 0.9 -5.8 6 -5.4 4 -6.8 4 -9.1 4 -6.3 2 -12.2 2.4 -14 0.4 -14 -1.8 -14 -4.4 -12 -6 -11.9 -8.6 -9.9 -10 -8.4 -12 -5.9 -12 -4.1 -14 -1.6 -14 0.8 -12 1 -6.4 2 -5zM417.2 564.0l-1.2 3 -0.2 3 0.6 10 3 12 4.3 10 6 10 6.5 8 8.4 8 9.4 6.7 10 5.3 10 3.7 10 2.3 12 1.1 12 -0.8 10.4 -2.3 9.7 -4 5 -4 -0.5 -2 -0.6 -0.1 -22 -1.6 -8 -1.2 -10 -2.3 -12 -4.2 -14 -7.1 -12 -8.4 -11.6 -11.1 -9.5 -12 -12.9 -21.9 -2 -1.3 -0.8 1.2z" fill="#88C440" stroke="#88C440" stroke-width="0.7" fill-rule="evenodd"/>
<path d="M526.0 459.6l6 -1.3 8 1.1 8 2.9 8 4.6 10 7.6 7.8 7.5 6.4 8 5.8 9.3 4.1 8.7 3.3 10 1.8 10 0.3 8 -0.7 10 -2.1 8 -3.2 6 -5.5 5.2 -4 1.6 -2 0.2 -4 -0.6 -4 -2.2 -4 -3.8 -4 -5 -6 -9.2 -24.6 -42.2 -7.6 -16 -3.4 -12 -0.3 -6 0.6 -4 2.1 -4 3.2 -2.4zM534.0 464.0l-3.8 2 -2.2 2.8 -1.1 3.2 -0.5 6 0.9 6 2.3 8 7.2 16 17.2 29.7 6 9 6 7.4 6 5.1 4 1.6 4 0.1 4 -1.5 4 -3.8 3 -5.6 1.6 -6 0.8 -10 -0.4 -8 -1.6 -8 -2.6 -8 -3.6 -8 -5.2 -8.8 -5.5 -7.2 -6.5 -6.8 -6 -5 -8 -5.4 -8 -3.7 -6 -1.4 -6 0.3zM520.0 528.0l2 -0.4 2 1.2 0.8 1.2 -0.3 2 -2.5 1 -2 -0.9 -0.8 -2.1 0.8 -2zM521.1 530.0l0.9 1.2 0.7 -1.2 -0.7 -0.5 -0.9 0.5zM418.0 562.8l2 1.3 11.6 19.9 9 12 11.4 11.4 12 8.9 12 6.6 16 5.9 10 2.3 8 1.2 22 1.6 0.6 0.1 0.5 2 -5 4 -9.7 4 -10.4 2.3 -12 0.8 -12 -1.1 -10 -2.3 -10.1 -3.7 -11.1 -6 -8.8 -6.5 -7.8 -7.5 -6.5 -8 -6 -10 -4.9 -12 -2.7 -12 -0.1 -11 2 -4.2zM442.4 612.0l1.4 4 3.2 4 6.7 6 6 4 8.4 4 6.8 2 5.1 0.5 3 -0.5 -1.1 -2 -3.2 -2 -16.7 -9.2 -14 -8.9 -4 -2.1 -1.6 0.2z" fill="#70BE44" stroke="#70BE44" stroke-width="0.7" fill-rule="evenodd"/>
<path d="M534.0 464.0l6 -0.3 6 1.4 8 3.7 8 5.4 6 5 6.5 6.8 5.5 7.2 5.2 8.8 3.6 8 2.6 8 1.6 8 0.4 8 -0.8 10 -1.6 6 -3 5.6 -4 3.8 -4 1.5 -4 -0.1 -4 -1.6 -6 -5.1 -6 -7.4 -6 -9 -17.2 -29.7 -7.2 -16 -2.3 -8 -0.9 -6 0.5 -6 1.1 -3.2 2.2 -2.8 3.8 -2zM536.8 470.0l-2.8 2.6 -1.5 3.4 -0.6 4 0.4 6 3.2 12 7.5 16 13 21.8 10 12.7 4 3.6 4 2.4 4 1 4 -0.8 4 -3 3.1 -5.7 1.5 -6 0.6 -8 -0.4 -6 -1.5 -8 -2.6 -8 -3.7 -8 -5 -8.1 -6 -7.5 -6 -5.9 -6 -4.6 -8 -4.7 -6 -2 -6 -0.3 -3.2 1.1zM522.0 529.5l0.7 0.5 -0.7 1.2 -0.9 -1.2 0.9 -0.5zM444.0 611.8l22 13.3 12.7 6.9 3.2 2 1.1 2 -3 0.5 -5.1 -0.5 -6.8 -2 -8.4 -4 -8.5 -6 -5.9 -6 -2.5 -4 -0.4 -2 1.6 -0.2z" fill="#68BC46" stroke="#68BC46" stroke-width="0.7" fill-rule="evenodd"/>
<path d="M538.0 469.4l4 -0.7 6 1 6 2.5 8 5.1 6 5 6 6.3 5.4 7.4 4.6 7.9 3.5 8.1 2.3 8 1.2 8 0.2 6 -1 8 -1.9 6 -2.3 3.7 -4 3 -4 0.8 -4 -1 -4 -2.4 -4 -3.6 -6 -7.1 -6 -8.6 -12.1 -20.8 -7.1 -16 -1.8 -6 -1 -6 0.1 -6 1.1 -4 2.8 -3.5 2 -1.1zM539.4 472.0l-2.6 2 -2 4 -0.6 4 0.1 4 1 6 1.8 6 7.2 16 11.7 19.6 10 12.5 4 3.6 4 2.4 4 0.9 4 -0.8 4 -3.5 2 -3.8 1.3 -4.9 0.9 -8 -0.6 -8 -1.6 -7.4 -2.2 -6.6 -3.8 -8 -4 -6.6 -5.8 -7.4 -4.2 -4.3 -6 -5 -6 -3.8 -6 -2.8 -6 -1.1 -4.6 1z" fill="#58BA60" stroke="#58BA60" stroke-width="0.7" fill-rule="evenodd"/>
<path d="M540.0 471.7l4 -0.7 6 1.1 6 2.8 6 3.8 6 5 4.2 4.3 5.8 7.4 4 6.6 3.8 8 2.2 6.6 1.6 7.4 0.6 8 -0.9 8 -1.3 4.9 -2 3.8 -4 3.5 -4 0.8 -4 -0.9 -4 -2.4 -4 -3.6 -10 -12.5 -11.7 -19.6 -7.2 -16 -1.8 -6 -1 -6 0 -6 1.2 -4 2.5 -3.2 2 -1.1zM539.4 474.0l-1.9 2 -1.7 4 -0.4 4 0.5 6 3.6 12 7.7 16 10.8 17.2 6 7.5 4 4 4 2.9 4 1.8 4 0 2 -0.7 2 -1.4 2 -2.5 2 -4.5 1.2 -6.3 0.3 -6 -0.5 -6 -1.7 -8 -2.9 -8 -3 -6 -3.6 -6 -5.8 -7.4 -6 -5.9 -6 -4.6 -6 -3.3 -6 -2.1 -4 -0.3 -4.6 1.6z" fill="#4CB870" stroke="#4CB870" stroke-width="0.7" fill-rule="evenodd"/>
<path d="M540.0 473.6l4 -1.2 6 0.8 6 2.6 6 3.7 6 5 4 4.1 5.8 7.4 3.6 6 3 6 2.9 8 1.7 8 0.5 6 -0.3 6 -1.2 6.3 -2 4.5 -2 2.5 -2 1.4 -4 0.9 -4 -0.9 -4 -2.4 -4 -3.5 -4 -4.4 -6 -8.1 -9.9 -16.3 -7.4 -16 -3.1 -12 -0.2 -4 0.6 -4.7 1.5 -3.3 2.5 -2.4zM541.9 476.0l-2.2 2 -1.7 4 -0.4 4 0.5 6 3.7 12 6.8 14 9.4 15 6 7.4 4 3.9 4 3 4 1.6 4 -0.1 2 -0.8 2 -1.7 1.5 -2.3 1.6 -4 1.1 -6 0.2 -6 -0.7 -6 -1.7 -7 -2.6 -7 -3 -6 -3.7 -6 -4.7 -5.9 -4 -4.2 -6 -4.9 -6 -3.6 -6 -2.2 -4 -0.4 -4.1 1.2z" fill="#40B880" stroke="#40B880" stroke-width="0.7" fill-rule="evenodd"/>
<path d="M542.0 475.9l4 -1.1 4 0.4 6 2.2 6 3.6 6 4.9 4 4.2 4.7 5.9 3.7 6 3 6 2.6 7 1.7 7 0.7 6 -0.2 6 -1.1 6 -1.6 4 -1.5 2.3 -2 1.7 -2 0.8 -4 0.1 -4 -1.6 -4 -3 -4 -3.9 -6 -7.4 -9.4 -15 -6.8 -14 -3.7 -12 -0.5 -6 0.4 -4 1.7 -4 2.3 -2.1zM543.3 478.0l-2 2 -1.6 4 -0.1 8 3.4 12 7 14.6 10 15.3 8 8.6 4 2.9 4 1.5 2 0.2 3.4 -1.1 2.6 -2.4 2 -4.1 1.2 -5.5 0.3 -6 -0.7 -6 -1.3 -6 -2.9 -8 -3 -6 -7.6 -10.8 -4 -4.2 -6 -4.9 -4 -2.4 -6 -2.5 -4 -0.5 -4.7 1.3z" fill="#30B890" stroke="#30B890" stroke-width="0.7" fill-rule="evenodd"/>
<path d="M544.0 477.5l4 -0.8 4 0.5 6 2.5 4 2.4 6 4.9 4 4.2 4 5.1 4 6.4 3.4 7.3 2.1 6 1.3 6 0.7 6 -0.3 6 -1.2 5.5 -2 4.1 -2.6 2.4 -3.4 1.1 -2 -0.2 -4 -1.5 -4 -2.9 -8 -8.6 -10.3 -15.9 -6.7 -14 -3.4 -12 -0.2 -6 0.6 -3.3 1.3 -2.7 2.7 -2.5zM545.7 478.0l-3.1 2 -1.3 2 -1.1 4 -0.1 4 2 10 5.9 14 8.3 14 5.7 7.5 4 4.3 4 3.4 4 2.2 4 0.8 2 -0.5 2.6 -1.7 2.5 -4 1.2 -4 0.7 -6 -0.3 -6 -1.1 -6 -1.7 -6 -3.6 -8 -3.5 -6 -4.6 -6 -8.2 -7.9 -4 -2.7 -6 -2.8 -4 -1 -4.3 0.4z" fill="#2AB89C" stroke="#2AB89C" stroke-width="0.7" fill-rule="evenodd"/>
<path d="M546.0 477.9l4 -0.3 4 1 6 2.8 4 2.7 8.2 7.9 4.6 6 3.5 6 3.6 8 1.7 6 1.1 6 0.3 6 -0.7 6 -1.2 4 -2.5 4 -2.6 1.7 -2 0.5 -4 -0.8 -4 -2.2 -4 -3.4 -4 -4.3 -5.7 -7.5 -8.3 -14 -5.9 -14 -2 -10 0.1 -4 1.1 -4 1.3 -2 3.4 -2.1zM544.6 480.0l-1.8 2 -1.5 4 0.1 8 2.8 10 5.8 12.6 8 12.8 8 9.4 4 3.4 4 2.2 4 0.6 2 -0.5 2 -1.3 2.3 -3.2 1.8 -6 0.4 -6 -0.5 -6 -1.3 -6 -4.8 -12 -3.6 -6 -4.3 -5.6 -4 -4.2 -6 -4.9 -6 -3.2 -4 -1.2 -4 -0.2 -3.4 1.3z" fill="#10B8A4" stroke="#10B8A4" stroke-width="0.7" fill-rule="evenodd"/>
<path d="M546.0 479.2l4 -0.6 4 0.8 6 2.7 4 2.7 8 7.6 4.3 5.6 3.6 6 4.8 12 1.3 6 0.5 6 -0.4 6 -1.8 6 -2.3 3.2 -2 1.3 -2 0.5 -4 -0.6 -4 -2.2 -4 -3.4 -8 -9.4 -9.3 -15.4 -5.2 -12 -2.3 -10 -0.1 -4 0.7 -4 2.2 -3.5 2 -1.3zM548.3 480.0l-2.3 0.9 -2.7 3.1 -1.1 4 0 4 2.1 10 5.1 12 8.6 14.2 8 9.4 4 3.4 4 2.1 4 0.5 2 -0.6 2 -1.5 2 -3.3 1.3 -4.2 0.6 -6 -0.5 -6 -1.3 -6 -4.1 -10.7 -3 -5.3 -4.3 -6 -4.7 -5.1 -4 -3.4 -8 -4.5 -4 -1.1 -3.7 0.1z" fill="#18ACB8" stroke="#18ACB8" stroke-width="0.7" fill-rule="evenodd"/>
<path d="M550.0 479.8l4 0.5 4 1.5 8 5.3 8 8.5 6.4 10.4 3.7 10 1.3 6 0.5 6 -0.6 6 -1.3 4.2 -2 3.3 -2 1.5 -2 0.6 -4 -0.5 -4 -2.1 -4 -3.4 -4 -4.2 -6 -8.1 -8 -14.1 -4.3 -11.2 -1.3 -6 -0.3 -4 0.5 -4 1.4 -3.2 2 -1.9 4 -1.1zM546.8 484.0l-1.5 2 -1.1 4 0.6 8 3.2 10 6 11.8 8 11.3 6 6.1 6 3.4 4 0.2 2 -0.9 2 -2.1 1.6 -3.8 0.8 -4 0.1 -6 -0.9 -6 -1.6 -5.7 -4.8 -10.3 -7.2 -9.7 -8 -6.7 -6 -2.9 -4 -0.7 -2 0.2 -3.2 1.8z" fill="#18A0C4" stroke="#18A0C4" stroke-width="0.7" fill-rule="evenodd"/>
<path d="M548.0 483.0l2 -0.8 4 0.1 4 1.2 4 2.1 8 6.7 4 4.8 4 6.2 4.5 10.7 2 10 -0.1 6 -0.8 4 -1.6 3.8 -2 2.1 -2 0.9 -4 -0.2 -6 -3.4 -8 -8.5 -8 -12.4 -4.8 -10.3 -2.8 -10 -0.3 -4 0.5 -4 1.4 -3.1 2 -1.9zM549.9 484.0l-1.9 1.2 -1.8 2.8 -0.8 6 0.5 4 1.6 6 4.2 10 6.3 10.5 8 9.5 6 4.3 4 1 2 -0.3 2 -1.2 2 -2.8 1.5 -5 0.3 -4 -0.5 -6 -1.3 -5.6 -4 -9.9 -6 -9.1 -4 -4.3 -4 -3.3 -4 -2.4 -4 -1.6 -4 -0.3 -2.1 0.5z" fill="#1A98D4" stroke="#1A98D4" stroke-width="0.7" fill-rule="evenodd"/>
<path d="M550.0 483.9l2 -0.4 4 0.3 4 1.6 4 2.4 4 3.3 4 4.3 6 9.1 4 9.9 1.3 5.6 0.5 6 -0.3 4 -1.5 5 -2 2.8 -2 1.2 -2 0.3 -4 -1 -6 -4.3 -8 -9.5 -6.3 -10.5 -4.2 -10 -1.6 -6 -0.5 -4 0.8 -6 1.8 -2.8 2 -1.3zM553.2 486.0l-3.2 1.6 -1.6 2.4 -0.8 6 1.6 8 4.2 10 6.6 10.6 6 6.8 6 4.1 4 0.7 2 -0.8 2.8 -3.4 1.2 -4 0.2 -4 -1.5 -10 -3.1 -8 -5.6 -8.9 -6 -6.2 -6 -3.8 -4 -1.2 -2.8 0.1z" fill="#3884C6" stroke="#3884C6" stroke-width="0.7" fill-rule="evenodd"/>
<path d="M554.0 485.9l6 1.2 6 3.8 6 6.2 5.6 8.9 3.1 8 1.5 10 -0.2 4 -1.2 4 -2.8 3.4 -2 0.8 -4 -0.7 -6 -4.1 -7.9 -9.4 -5.7 -10 -3.8 -10 -1 -8 0.8 -4 1.2 -2 2.4 -1.7 2 -0.4zM551.9 488.0l-1.9 2 -0.8 2 -0.3 6 2.6 10 4.5 9.1 6 8.7 6 5.9 4 2.3 2 0.5 2 -0.1 2 -1 2.3 -3.4 0.9 -4 0.2 -4 -1.4 -8.3 -4 -9.7 -6 -8.5 -6 -5.3 -6 -2.8 -4 -0.2 -2.1 0.8z" fill="#3478BE" stroke="#3478BE" stroke-width="0.7" fill-rule="evenodd"/>
<path d="M552.0 487.9l2 -0.7 4 0.2 6 2.8 6 5.3 6 8.5 4 9.7 1.4 8.3 -0.2 4 -0.9 4 -2.3 3.4 -2 1 -2 0.1 -2 -0.5 -4 -2.3 -6 -5.9 -6 -8.7 -4.5 -9.1 -2.6 -10 0.3 -6 0.8 -2 2 -2.1zM551.9 490.0l-1.8 4 0.1 6 2.2 8 3.6 7.5 4.2 6.5 5.8 6.6 6 3.9 4 0.1 2 -1.4 1.7 -3.2 0.8 -6 -1.1 -8 -4 -10 -5.7 -8 -3.7 -3.5 -4 -2.6 -4 -1.5 -2 -0.1 -2 0.4 -2.1 1.3z" fill="#2E6AB4" stroke="#2E6AB4" stroke-width="0.7" fill-rule="evenodd"/>
<path d="M552.0 489.9l2 -1.2 4 -0.3 6 2.7 6 5.3 5.4 7.6 4 10 1.1 8 -0.8 6 -1.7 3.2 -2 1.4 -4 -0.1 -6 -3.9 -5.8 -6.6 -4.2 -6.5 -3.6 -7.5 -2.2 -8 -0.1 -6 1.9 -4.1zM554.8 492.0l-1.6 2 -0.6 2 -0.1 4 1.5 6.6 4 8.6 4 5.9 6 5.9 4 1.8 2 0 1.8 -0.8 2.2 -3.5 0.5 -6.5 -1.1 -6 -3.4 -8.1 -4.2 -5.9 -5.8 -5 -4 -1.8 -2 -0.3 -3.2 1.1z" fill="#2C5EAC" stroke="#2C5EAC" stroke-width="0.7" fill-rule="evenodd"/>
<path d="M556.0 491.3l4 -0.1 6 3.2 4 3.9 4 5.7 3.4 8 1.1 6 -0.5 6.5 -2.2 3.5 -1.8 0.8 -2 0 -4 -1.8 -6 -5.9 -4.7 -7.1 -3.5 -8 -1.3 -6 0.1 -4 0.6 -2 0.8 -1.3 2 -1.4zM558.5 498.0l-0.8 2 0.1 4 2.1 6 2.1 3.7 2 2.6 4 3.3 2 0.7 2 -0.2 1.8 -2.1 0.5 -4 -0.7 -4 -2.8 -6 -2.8 -3.7 -4 -3 -2 -0.6 -2 0.1 -1.5 1.2z" fill="#2457A8" stroke="#2457A8" stroke-width="0.7" fill-rule="evenodd"/>
<path d="M560.0 496.8l2 -0.1 4 1.9 3.4 3.4 2.6 4 1.6 4 0.7 4 -0.5 4 -1.8 2.1 -2 0.2 -4 -2 -3.8 -4.3 -2.2 -3.7 -1.7 -4.3 -0.7 -4 0.4 -3 2 -2.2zM560.7 502.0l0.2 4 3 6 2.1 2.3 2 1.2 2 0.2 1.4 -1.7 0.4 -2 -1.8 -6.1 -2 -2.9 -4 -2.9 -2 0 -1.3 1.9z" fill="#3258A6" stroke="#3258A6" stroke-width="0.7" fill-rule="evenodd"/>
<path d="M562.0 500.1l2 0 2 1.1 4.1 4.8 1.7 6 -0.4 2 -1.4 1.7 -2 -0.2 -2 -1.2 -2 -2.1 -2 -3.3 -1.4 -4.9 0.1 -2 1.3 -1.9zM564.1 506.0l1.9 3.7 2 0.6 0 -2.9 -2 -2.5 -1.9 1.1z" fill="#4658A6" stroke="#4658A6" stroke-width="0.7" fill-rule="evenodd"/>
<path d="M566.0 504.9l2 2.5 0 2.9 -2 -0.6 -1.9 -3.7 1.9 -1.1z" fill="#3E56A4" stroke="#3E56A4" stroke-width="0.7" fill-rule="evenodd"/>
<rect x="104.6" y="95.8" width="819.3" height="880.9" fill="none" stroke="#5b6166" stroke-width="1.6"/>
<path d="M145.6 976.7v-8.5M145.6 95.8v8.5M104.6 932.7h8.5M923.9 932.7h-8.5M186.5 976.7v-8.5M186.5 95.8v8.5M104.6 888.6h8.5M923.9 888.6h-8.5M227.5 976.7v-8.5M227.5 95.8v8.5M104.6 844.6h8.5M923.9 844.6h-8.5M268.5 976.7v-8.5M268.5 95.8v8.5M104.6 800.5h8.5M923.9 800.5h-8.5M309.4 976.7v-17M309.4 95.8v17M104.6 756.5h17M923.9 756.5h-17M350.4 976.7v-8.5M350.4 95.8v8.5M104.6 712.4h8.5M923.9 712.4h-8.5M391.4 976.7v-8.5M391.4 95.8v8.5M104.6 668.4h8.5M923.9 668.4h-8.5M432.3 976.7v-8.5M432.3 95.8v8.5M104.6 624.3h8.5M923.9 624.3h-8.5M473.3 976.7v-8.5M473.3 95.8v8.5M104.6 580.3h8.5M923.9 580.3h-8.5M514.2 976.7v-17M514.2 95.8v17M104.6 536.2h17M923.9 536.2h-17M555.2 976.7v-8.5M555.2 95.8v8.5M104.6 492.2h8.5M923.9 492.2h-8.5M596.2 976.7v-8.5M596.2 95.8v8.5M104.6 448.2h8.5M923.9 448.2h-8.5M637.1 976.7v-8.5M637.1 95.8v8.5M104.6 404.1h8.5M923.9 404.1h-8.5M678.1 976.7v-8.5M678.1 95.8v8.5M104.6 360.1h8.5M923.9 360.1h-8.5M719.1 976.7v-17M719.1 95.8v17M104.6 316h17M923.9 316h-17M760 976.7v-8.5M760 95.8v8.5M104.6 272h8.5M923.9 272h-8.5M801 976.7v-8.5M801 95.8v8.5M104.6 227.9h8.5M923.9 227.9h-8.5M842 976.7v-8.5M842 95.8v8.5M104.6 183.9h8.5M923.9 183.9h-8.5M882.9 976.7v-8.5M882.9 95.8v8.5M104.6 139.8h8.5M923.9 139.8h-8.5" stroke="#5b6166" stroke-width="1.5" fill="none"/>
<path d="M104.6 95.8v17M104.6 95.8h17M923.9 95.8v17M923.9 95.8h-17M104.6 976.7v-17M104.6 976.7h17M923.9 976.7v-17M923.9 976.7h-17" stroke="#2a2e31" stroke-width="2" fill="none"/>
<g shape-rendering="crispEdges">
<rect x="1032.7" y="107.6" width="31" height="6" fill="#EEEEF6"/>
<rect x="1032.7" y="113" width="31" height="6.6" fill="#D8D6EA"/>
<rect x="1032.7" y="119" width="31" height="3.6" fill="#C8C4E2"/>
<rect x="1032.7" y="122" width="31" height="5.6" fill="#B4AED6"/>
<rect x="1032.7" y="127" width="31" height="6.6" fill="#A49ECE"/>
<rect x="1032.7" y="133" width="31" height="6.6" fill="#8A8AC2"/>
<rect x="1032.7" y="139" width="31" height="4.6" fill="#7276B8"/>
<rect x="1032.7" y="143" width="31" height="7.6" fill="#6870B4"/>
<rect x="1032.7" y="150" width="31" height="6.6" fill="#5E66AE"/>
<rect x="1032.7" y="156" width="31" height="11.6" fill="#4A5CA8"/>
<rect x="1032.7" y="167" width="31" height="5.6" fill="#3E56A4"/>
<rect x="1032.7" y="172" width="31" height="10.2" fill="#4658A6"/>
<rect x="1032.7" y="181.6" width="31" height="13" fill="#3258A6"/>
<rect x="1032.7" y="194" width="31" height="28.6" fill="#2457A8"/>
<rect x="1032.7" y="222" width="31" height="15.6" fill="#2C5EAC"/>
<rect x="1032.7" y="237" width="31" height="7.6" fill="#2E6AB4"/>
<rect x="1032.7" y="244" width="31" height="7.6" fill="#3478BE"/>
<rect x="1032.7" y="251" width="31" height="14.6" fill="#3884C6"/>
<rect x="1032.7" y="265" width="31" height="8.6" fill="#1A98D4"/>
<rect x="1032.7" y="273" width="31" height="13.6" fill="#18A0C4"/>
<rect x="1032.7" y="286" width="31" height="7.6" fill="#18ACB8"/>
<rect x="1032.7" y="293" width="31" height="6.6" fill="#10B8A4"/>
<rect x="1032.7" y="299" width="31" height="5.6" fill="#2AB89C"/>
<rect x="1032.7" y="304" width="31" height="11.6" fill="#30B890"/>
<rect x="1032.7" y="315" width="31" height="14.6" fill="#40B880"/>
<rect x="1032.7" y="329" width="31" height="8.6" fill="#4CB870"/>
<rect x="1032.7" y="337" width="31" height="14.6" fill="#58BA60"/>
<rect x="1032.7" y="351" width="31" height="32.6" fill="#68BC46"/>
<rect x="1032.7" y="383" width="31" height="32.6" fill="#70BE44"/>
<rect x="1032.7" y="415" width="31" height="9.6" fill="#88C440"/>
<rect x="1032.7" y="424" width="31" height="13.6" fill="#98C83C"/>
<rect x="1032.7" y="437" width="31" height="9.6" fill="#AED236"/>
<rect x="1032.7" y="446" width="31" height="14.6" fill="#D0DE3C"/>
<rect x="1032.7" y="460" width="31" height="6.6" fill="#DEE244"/>
<rect x="1032.7" y="466" width="31" height="10.6" fill="#E8E648"/>
<rect x="1032.7" y="476" width="31" height="39.6" fill="#EEEB4A"/>
<rect x="1032.7" y="515" width="31" height="25.6" fill="#F2E444"/>
<rect x="1032.7" y="540" width="31" height="20.6" fill="#F6DE40"/>
<rect x="1032.7" y="560" width="31" height="20.6" fill="#F8D63E"/>
<rect x="1032.7" y="580" width="31" height="20.6" fill="#F9CC3C"/>
<rect x="1032.7" y="600" width="31" height="20.6" fill="#FAC43C"/>
<rect x="1032.7" y="620" width="31" height="40.6" fill="#FAC03C"/>
<rect x="1032.7" y="660" width="31" height="40.6" fill="#FAB43C"/>
<rect x="1032.7" y="700" width="31" height="20.6" fill="#F9A63A"/>
<rect x="1032.7" y="720" width="31" height="20.6" fill="#F89C3A"/>
<rect x="1032.7" y="740" width="31" height="20.6" fill="#F48E38"/>
<rect x="1032.7" y="760" width="31" height="20.6" fill="#F28038"/>
<rect x="1032.7" y="780" width="31" height="20.6" fill="#F07438"/>
<rect x="1032.7" y="800" width="31" height="20.6" fill="#EF6A37"/>
<rect x="1032.7" y="820" width="31" height="20.6" fill="#EE5E36"/>
<rect x="1032.7" y="840" width="31" height="20.6" fill="#ED5437"/>
<rect x="1032.7" y="860" width="31" height="20.6" fill="#EC4A38"/>
<rect x="1032.7" y="880" width="31" height="15.6" fill="#EC3E38"/>
<rect x="1032.7" y="895" width="31" height="16.6" fill="#EC3338"/>
<rect x="1032.7" y="911" width="31" height="3.4" fill="#000"/>
</g>
<text transform="translate(265.03 71.18) scale(1 0.9641)" font-size="47.71" fill="#000" textLength="424.28" lengthAdjust="spacingAndGlyphs">j’ contours at 2.64 ms</text>
<text transform="translate(38.16 122.20) scale(1 0.9643)" font-size="40.54" fill="#000" textLength="41.10" lengthAdjust="spacingAndGlyphs">10</text>
<text transform="translate(58.12 327.70) scale(1 0.9570)" font-size="42.59" fill="#000" textLength="21.59" lengthAdjust="spacingAndGlyphs">5</text>
<text transform="translate(57.78 549.11) scale(1 0.9348)" font-size="40.86" fill="#000" textLength="20.71" lengthAdjust="spacingAndGlyphs">0</text>
<text transform="translate(45.83 772.21) scale(1 0.9085)" font-size="42.19" fill="#000" textLength="34.30" lengthAdjust="spacingAndGlyphs">-5</text>
<text transform="translate(24.47 976.91) scale(1 0.9403)" font-size="41.10" fill="#000" textLength="54.25" lengthAdjust="spacingAndGlyphs">-10</text>
<text transform="translate(84.50 1029.01) scale(1 0.9662)" font-size="39.84" fill="#000" textLength="52.59" lengthAdjust="spacingAndGlyphs">-10</text>
<text transform="translate(290.62 1029.01) scale(1 0.9105)" font-size="42.60" fill="#000" textLength="34.64" lengthAdjust="spacingAndGlyphs">-5</text>
<text transform="translate(506.68 1029.01) scale(1 0.9372)" font-size="41.08" fill="#000" textLength="20.82" lengthAdjust="spacingAndGlyphs">0</text>
<text transform="translate(707.31 1029.01) scale(1 0.9812)" font-size="39.53" fill="#000" textLength="20.04" lengthAdjust="spacingAndGlyphs">5</text>
<text transform="translate(887.98 1029.01) scale(1 0.9546)" font-size="40.33" fill="#000" textLength="40.88" lengthAdjust="spacingAndGlyphs">10</text>
<polygon points="1623.1,85.6 1467.2,119.3 1335,215.1 1246.6,358.6 1215.6,527.9 1246.6,697.1 1335,840.6 1467.2,936.4 1623.1,970.1 1779,936.4 1911.2,840.6 1999.6,697.1 2030.6,527.9 1999.6,358.6 1911.2,215.1 1779,119.3" fill="#EEEB4A"/>
<polygon points="1624.8,457.9 1650.4,455.5 1676.1,470.1 1692.0,493.4 1698.1,527.6 1690.8,558.2 1679.8,568.0 1672.5,557.0 1656.6,565.5 1649.2,552.1 1634.5,524.0 1622.3,499.5 1621.1,478.7 1617.4,467.7" fill="#E7E646"/><polygon points="1580.7,503.2 1593.0,505.6 1604.0,530.0 1618.6,561.9 1616.2,575.3 1604.0,581.4 1615.0,588.8 1599.0,594.9 1574.6,581.4 1560.0,559.4 1556.3,527.6 1566.0,516.6 1574.6,505.6" fill="#F1EE4E"/><path d="M1533 504.4Q1520 540 1531 567Q1545 598 1576 614.5" stroke="#E9E847" stroke-width="6" fill="none"/>
<rect x="1215.6" y="85.6" width="815" height="884.5" fill="none" stroke="#5b6166" stroke-width="1.6"/>
<path d="M1256.3 970.1v-8.5M1256.3 85.6v8.5M1215.6 925.9h8.5M2030.6 925.9h-8.5M1297.1 970.1v-8.5M1297.1 85.6v8.5M1215.6 881.7h8.5M2030.6 881.7h-8.5M1337.8 970.1v-8.5M1337.8 85.6v8.5M1215.6 837.4h8.5M2030.6 837.4h-8.5M1378.6 970.1v-8.5M1378.6 85.6v8.5M1215.6 793.2h8.5M2030.6 793.2h-8.5M1419.3 970.1v-17M1419.3 85.6v17M1215.6 749h17M2030.6 749h-17M1460.1 970.1v-8.5M1460.1 85.6v8.5M1215.6 704.8h8.5M2030.6 704.8h-8.5M1500.8 970.1v-8.5M1500.8 85.6v8.5M1215.6 660.5h8.5M2030.6 660.5h-8.5M1541.6 970.1v-8.5M1541.6 85.6v8.5M1215.6 616.3h8.5M2030.6 616.3h-8.5M1582.3 970.1v-8.5M1582.3 85.6v8.5M1215.6 572.1h8.5M2030.6 572.1h-8.5M1623.1 970.1v-17M1623.1 85.6v17M1215.6 527.9h17M2030.6 527.9h-17M1663.8 970.1v-8.5M1663.8 85.6v8.5M1215.6 483.6h8.5M2030.6 483.6h-8.5M1704.6 970.1v-8.5M1704.6 85.6v8.5M1215.6 439.4h8.5M2030.6 439.4h-8.5M1745.3 970.1v-8.5M1745.3 85.6v8.5M1215.6 395.2h8.5M2030.6 395.2h-8.5M1786.1 970.1v-8.5M1786.1 85.6v8.5M1215.6 351h8.5M2030.6 351h-8.5M1826.8 970.1v-17M1826.8 85.6v17M1215.6 306.7h17M2030.6 306.7h-17M1867.6 970.1v-8.5M1867.6 85.6v8.5M1215.6 262.5h8.5M2030.6 262.5h-8.5M1908.3 970.1v-8.5M1908.3 85.6v8.5M1215.6 218.3h8.5M2030.6 218.3h-8.5M1949.1 970.1v-8.5M1949.1 85.6v8.5M1215.6 174.1h8.5M2030.6 174.1h-8.5M1989.8 970.1v-8.5M1989.8 85.6v8.5M1215.6 129.8h8.5M2030.6 129.8h-8.5" stroke="#5b6166" stroke-width="1.5" fill="none"/>
<path d="M1215.6 85.6v17M1215.6 85.6h17M2030.6 85.6v17M2030.6 85.6h-17M1215.6 970.1v-17M1215.6 970.1h17M2030.6 970.1v-17M2030.6 970.1h-17" stroke="#2a2e31" stroke-width="2" fill="none"/>
<g shape-rendering="crispEdges">
<rect x="2139.1" y="98" width="29.6" height="6" fill="#EEEEF6"/>
<rect x="2139.1" y="103.4" width="29.6" height="6.6" fill="#D8D6EA"/>
<rect x="2139.1" y="109.4" width="29.6" height="3.6" fill="#C8C4E2"/>
<rect x="2139.1" y="112.4" width="29.6" height="5.6" fill="#B4AED6"/>
<rect x="2139.1" y="117.5" width="29.6" height="6.6" fill="#A49ECE"/>
<rect x="2139.1" y="123.5" width="29.6" height="6.6" fill="#8A8AC2"/>
<rect x="2139.1" y="129.5" width="29.6" height="4.6" fill="#7276B8"/>
<rect x="2139.1" y="133.5" width="29.6" height="7.6" fill="#6870B4"/>
<rect x="2139.1" y="140.5" width="29.6" height="6.6" fill="#5E66AE"/>
<rect x="2139.1" y="146.6" width="29.6" height="11.6" fill="#4A5CA8"/>
<rect x="2139.1" y="157.6" width="29.6" height="5.6" fill="#3E56A4"/>
<rect x="2139.1" y="162.6" width="29.6" height="10.2" fill="#4658A6"/>
<rect x="2139.1" y="172.2" width="29.6" height="13" fill="#3258A6"/>
<rect x="2139.1" y="184.7" width="29.6" height="28.7" fill="#2457A8"/>
<rect x="2139.1" y="212.8" width="29.6" height="15.6" fill="#2C5EAC"/>
<rect x="2139.1" y="227.8" width="29.6" height="7.6" fill="#2E6AB4"/>
<rect x="2139.1" y="234.8" width="29.6" height="7.6" fill="#3478BE"/>
<rect x="2139.1" y="241.9" width="29.6" height="14.6" fill="#3884C6"/>
<rect x="2139.1" y="255.9" width="29.6" height="8.6" fill="#1A98D4"/>
<rect x="2139.1" y="263.9" width="29.6" height="13.6" fill="#18A0C4"/>
<rect x="2139.1" y="277" width="29.6" height="7.6" fill="#18ACB8"/>
<rect x="2139.1" y="284" width="29.6" height="6.6" fill="#10B8A4"/>
<rect x="2139.1" y="290" width="29.6" height="5.6" fill="#2AB89C"/>
<rect x="2139.1" y="295" width="29.6" height="11.6" fill="#30B890"/>
<rect x="2139.1" y="306.1" width="29.6" height="14.6" fill="#40B880"/>
<rect x="2139.1" y="320.1" width="29.6" height="8.6" fill="#4CB870"/>
<rect x="2139.1" y="328.1" width="29.6" height="14.6" fill="#58BA60"/>
<rect x="2139.1" y="342.2" width="29.6" height="32.7" fill="#68BC46"/>
<rect x="2139.1" y="374.3" width="29.6" height="32.7" fill="#70BE44"/>
<rect x="2139.1" y="406.4" width="29.6" height="9.6" fill="#88C440"/>
<rect x="2139.1" y="415.4" width="29.6" height="13.6" fill="#98C83C"/>
<rect x="2139.1" y="428.5" width="29.6" height="9.6" fill="#AED236"/>
<rect x="2139.1" y="437.5" width="29.6" height="14.6" fill="#D0DE3C"/>
<rect x="2139.1" y="451.5" width="29.6" height="6.6" fill="#DEE244"/>
<rect x="2139.1" y="457.6" width="29.6" height="10.6" fill="#E8E648"/>
<rect x="2139.1" y="467.6" width="29.6" height="39.7" fill="#EEEB4A"/>
<rect x="2139.1" y="506.7" width="29.6" height="25.7" fill="#F2E444"/>
<rect x="2139.1" y="531.8" width="29.6" height="20.7" fill="#F6DE40"/>
<rect x="2139.1" y="551.9" width="29.6" height="20.7" fill="#F8D63E"/>
<rect x="2139.1" y="571.9" width="29.6" height="20.7" fill="#F9CC3C"/>
<rect x="2139.1" y="592" width="29.6" height="20.7" fill="#FAC43C"/>
<rect x="2139.1" y="612.1" width="29.6" height="40.7" fill="#FAC03C"/>
<rect x="2139.1" y="652.2" width="29.6" height="40.7" fill="#FAB43C"/>
<rect x="2139.1" y="692.3" width="29.6" height="20.7" fill="#F9A63A"/>
<rect x="2139.1" y="712.4" width="29.6" height="20.7" fill="#F89C3A"/>
<rect x="2139.1" y="732.4" width="29.6" height="20.7" fill="#F48E38"/>
<rect x="2139.1" y="752.5" width="29.6" height="20.7" fill="#F28038"/>
<rect x="2139.1" y="772.6" width="29.6" height="20.7" fill="#F07438"/>
<rect x="2139.1" y="792.6" width="29.6" height="20.7" fill="#EF6A37"/>
<rect x="2139.1" y="812.7" width="29.6" height="20.7" fill="#EE5E36"/>
<rect x="2139.1" y="832.8" width="29.6" height="20.7" fill="#ED5437"/>
<rect x="2139.1" y="852.8" width="29.6" height="20.7" fill="#EC4A38"/>
<rect x="2139.1" y="872.9" width="29.6" height="15.6" fill="#EC3E38"/>
<rect x="2139.1" y="887.9" width="29.6" height="16.7" fill="#EC3338"/>
<rect x="2139.1" y="904" width="29.6" height="3.2" fill="#000"/>
</g>
<text transform="translate(1383.93 61.22) scale(1 0.9597)" font-size="47.70" fill="#000" textLength="424.18" lengthAdjust="spacingAndGlyphs">j’ contours at 4.64 ms</text>
<text transform="translate(1157.02 112.60) scale(1 0.9893)" font-size="39.67" fill="#000" textLength="40.22" lengthAdjust="spacingAndGlyphs">10</text>
<text transform="translate(1177.31 318.01) scale(1 0.9564)" font-size="39.76" fill="#000" textLength="20.16" lengthAdjust="spacingAndGlyphs">5</text>
<text transform="translate(1176.12 541.32) scale(1 0.9451)" font-size="39.14" fill="#000" textLength="19.84" lengthAdjust="spacingAndGlyphs">0</text>
<text transform="translate(1164.77 767.00) scale(1 0.9623)" font-size="41.10" fill="#000" textLength="33.41" lengthAdjust="spacingAndGlyphs">-5</text>
<text transform="translate(1144.10 974.11) scale(1 0.9756)" font-size="39.92" fill="#000" textLength="52.69" lengthAdjust="spacingAndGlyphs">-10</text>
<text transform="translate(1202.99 1026.20) scale(1 0.9754)" font-size="40.24" fill="#000" textLength="53.11" lengthAdjust="spacingAndGlyphs">-10</text>
<text transform="translate(1410.52 1026.20) scale(1 1.0024)" font-size="39.45" fill="#000" textLength="32.08" lengthAdjust="spacingAndGlyphs">-5</text>
<text transform="translate(1625.58 1026.20) scale(1 0.9555)" font-size="41.08" fill="#000" textLength="20.82" lengthAdjust="spacingAndGlyphs">0</text>
<text transform="translate(1824.79 1026.20) scale(1 0.9085)" font-size="43.53" fill="#000" textLength="22.06" lengthAdjust="spacingAndGlyphs">5</text>
<text transform="translate(2006.06 1026.20) scale(1 0.9681)" font-size="40.54" fill="#000" textLength="41.10" lengthAdjust="spacingAndGlyphs">10</text>
<circle cx="1188" cy="1005" r="1.2" fill="#222"/>
<defs><pattern id="hatchL" patternUnits="userSpaceOnUse" width="600" height="2.8" patternTransform="rotate(-12.3)"><rect width="600" height="2.8" fill="#a2adb9"/><rect y="0" width="600" height="1.35" fill="#37444b"/></pattern></defs>
<polygon points="409.5,1871.5 902.8,1764.0 582.0,1550.7 88.7,1658.2" fill="url(#hatchL)" stroke="#37444b" stroke-width="1.6"/>
<path d="M480.0 1856.1L159.2 1642.8M550.4 1840.8L229.6 1627.5M620.9 1825.4L300.1 1612.1M691.4 1810.1L370.6 1596.8M761.9 1794.7L441.1 1581.4M832.3 1779.3L511.5 1566.0" stroke="#37444b" stroke-width="1.8" fill="none"/>
<polygon points="402.4,1374.3 472.5,1572.5 508.6,1693.0 578.3,1756.3 607.6,1817.0 547.0,1840.0 409.5,1871.5 329.3,1814.0 339.3,1789.4 342.4,1758.6 353.1,1677.0 376.2,1674.0 380.9,1600.0 382.9,1565.9" fill="#fff" stroke="none" stroke-width="0" stroke-linejoin="round"/>
<path d="M402.4 1374.3L472.5 1572.5M472.5 1572.5L508.6 1693.0M402.4 1374.3L382.9 1565.9M382.9 1565.9L380.9 1600.0M380.9 1600.0L376.2 1674.0M402.4 1374.3L407.0 1616.0M407.0 1616.0L409.5 1871.5M472.5 1572.5L482.2 1854.8M407.0 1616.0L475.0 1645.5M475.0 1645.5L548.0 1839.5M409.5 1871.5L477.0 1791.5M477.0 1791.5L548.0 1839.5M353.1 1677.0L376.2 1674.0M400.1 1401.0L402.8 1393.0M397.7 1424.0L403.3 1416.0M394.2 1459.0L403.9 1451.0M390.7 1493.0L404.6 1485.0M387.6 1524.0L405.2 1516.0M384.7 1552.0L405.7 1544.0M353.1 1677.0L360.0 1710.0M360.0 1710.0L367.0 1814.0M376.2 1674.0L372.0 1760.0M372.0 1760.0L367.0 1814.0M353.1 1677.0L370.0 1680.0M342.4 1758.6L362.0 1745.0M362.0 1745.0L376.0 1728.0M339.3 1789.4L372.0 1770.0M404.0 1600.0L360.0 1705.0M406.0 1650.0L352.0 1780.0M407.0 1700.0L366.0 1790.0M407.0 1735.0L390.0 1760.0M390.0 1760.0L407.0 1788.0M380.0 1790.0L407.0 1788.0" stroke="#37444b" stroke-width="1.5" fill="none" stroke-linecap="round"/>
<path d="M508.6 1693.0L548.0 1839.5" stroke="#37444b" stroke-width="3.2" fill="none" stroke-linecap="round"/>
<polygon points="578.3,1756.3 650.0,1771.0 672.0,1810.0 607.6,1817.0" fill="#fff" stroke="none" stroke-width="0" stroke-linejoin="round"/>
<path d="M509.8 1697.6L578.3 1756.3M512.7 1708.4L580.6 1761.0M515.5 1719.3L582.8 1765.6M518.4 1730.1L585.1 1770.3M521.2 1741.0L587.3 1775.0M524.1 1751.8L589.6 1779.6M527.0 1762.6L591.8 1784.3M529.8 1773.5L594.1 1789.0M532.7 1784.3L596.3 1793.7M535.6 1795.1L598.6 1798.3M538.4 1806.0L600.8 1803.0M541.3 1816.8L603.1 1807.7M544.1 1827.7L605.3 1812.3M547.0 1838.5L607.6 1817.0" stroke="#37444b" stroke-width="1.2" fill="none" stroke-linecap="round"/>
<path d="M578.3 1756.3L650.0 1771.0M579.6 1758.9L651.0 1772.7M580.8 1761.6L651.9 1774.4M582.1 1764.2L652.9 1776.1M583.4 1766.9L653.8 1777.8M584.7 1769.5L654.8 1779.5M585.9 1772.1L655.7 1781.2M587.2 1774.8L656.7 1782.9M588.5 1777.4L657.7 1784.6M589.8 1780.1L658.6 1786.3M591.0 1782.7L659.6 1788.0M592.3 1785.3L660.5 1789.7M593.6 1788.0L661.5 1791.3M594.9 1790.6L662.4 1793.0M596.1 1793.2L663.4 1794.7M597.4 1795.9L664.3 1796.4M598.7 1798.5L665.3 1798.1M600.0 1801.2L666.3 1799.8M601.2 1803.8L667.2 1801.5M602.5 1806.4L668.2 1803.2M603.8 1809.1L669.1 1804.9M605.1 1811.7L670.1 1806.6M606.3 1814.4L671.0 1808.3M607.6 1817.0L672.0 1810.0" stroke="#37444b" stroke-width="1.0" fill="none" stroke-linecap="round"/>
<path d="M578.3 1756.3L607.6 1817.0" stroke="#37444b" stroke-width="2.2" fill="none" stroke-linecap="round"/>
<path d="M329.3 1814.0L300.0 1790.0M329.3 1814.0L303.9 1787.1M329.3 1814.0L307.7 1784.3M329.3 1814.0L311.6 1781.4M329.3 1814.0L315.4 1778.6M329.3 1814.0L319.3 1775.7M329.3 1814.0L323.1 1772.9M329.3 1814.0L327.0 1770.0M329.3 1814.0L330.8 1767.2M329.3 1814.0L334.7 1764.3M329.3 1814.0L338.5 1761.5M329.3 1814.0L342.4 1758.6" stroke="#37444b" stroke-width="1.0" fill="none" stroke-linecap="round"/>
<path d="M329.3 1814.0L342.4 1758.6M329.3 1814.0L349.1 1753.9M329.3 1814.0L355.8 1749.2M329.3 1814.0L362.6 1744.4M329.3 1814.0L369.3 1739.7M329.3 1814.0L376.0 1735.0" stroke="#37444b" stroke-width="1.1" fill="none" stroke-linecap="round"/>
<polygon points="577.2,1752.5 610.0,1757.0 648.0,1764.0 645.0,1771.0 600.0,1763.0" fill="#37444b" stroke="none" stroke-width="0" stroke-linejoin="round"/>
<polygon points="305.0,1790.0 326.0,1779.0 331.0,1790.0 318.0,1800.0" fill="#37444b" stroke="none" stroke-width="0" stroke-linejoin="round"/>
<path d="M973.6 1749.3V1216.0" stroke="#37444b" stroke-width="2" fill="none"/>
<path d="M973.6 1749.3l-11.0 2.4M973.6 1728.0l-6.1 1.3M973.6 1706.6l-6.1 1.3M973.6 1685.3l-6.1 1.3M973.6 1664.0l-6.1 1.3M973.6 1642.6l-11.0 2.4M973.6 1621.3l-6.1 1.3M973.6 1600.0l-6.1 1.3M973.6 1578.6l-6.1 1.3M973.6 1557.3l-6.1 1.3M973.6 1536.0l-11.0 2.4M973.6 1514.6l-6.1 1.3M973.6 1493.3l-6.1 1.3M973.6 1472.0l-6.1 1.3M973.6 1450.7l-6.1 1.3M973.6 1429.3l-11.0 2.4M973.6 1408.0l-6.1 1.3M973.6 1386.7l-6.1 1.3M973.6 1365.3l-6.1 1.3M973.6 1344.0l-6.1 1.3M973.6 1322.7l-11.0 2.4M973.6 1301.3l-6.1 1.3M973.6 1280.0l-6.1 1.3M973.6 1258.7l-6.1 1.3M973.6 1237.3l-6.1 1.3M973.6 1216.0l-11.0 2.4" stroke="#37444b" stroke-width="1.6" fill="none"/>
<path d="M902.8 1764.0L973.3 1748.6L973.6 1749.3" stroke="#37444b" stroke-width="1.8" fill="none"/>
<text transform="translate(290.28 1151.09) scale(1 1.0219)" font-size="40.70" fill="#37444b" textLength="331.38" lengthAdjust="spacingAndGlyphs">contours at 2.64 ms</text>
<text transform="translate(262.75 1155.75) scale(1 0.9099)" font-size="41.70" fill="#37444b" textLength="10.65" lengthAdjust="spacingAndGlyphs">j</text>
<text transform="translate(257.21 1122.81) scale(1 1.0793)" font-size="39.57" fill="#37444b" textLength="19.71" lengthAdjust="spacingAndGlyphs">~</text>
<text transform="translate(989.92 1217.12) scale(1 1.0666)" font-size="33.98" fill="#37444b" textLength="77.96" lengthAdjust="spacingAndGlyphs">0.025</text>
<text transform="translate(989.92 1324.72) scale(1 1.0666)" font-size="33.98" fill="#37444b" textLength="60.74" lengthAdjust="spacingAndGlyphs">0.02</text>
<text transform="translate(989.92 1432.32) scale(1 1.0666)" font-size="33.98" fill="#37444b" textLength="77.96" lengthAdjust="spacingAndGlyphs">0.015</text>
<text transform="translate(989.92 1539.92) scale(1 1.0666)" font-size="33.98" fill="#37444b" textLength="60.74" lengthAdjust="spacingAndGlyphs">0.01</text>
<text transform="translate(989.92 1647.52) scale(1 1.0666)" font-size="33.98" fill="#37444b" textLength="77.96" lengthAdjust="spacingAndGlyphs">0.005</text>
<text transform="translate(989.92 1755.12) scale(1 1.0666)" font-size="33.98" fill="#37444b" textLength="43.52" lengthAdjust="spacingAndGlyphs">0.0</text>
<text transform="translate(414.49 1919.23) scale(1 0.9267)" font-size="35.70" fill="#37444b" textLength="18.09" lengthAdjust="spacingAndGlyphs">0</text>
<text transform="translate(550.90 1890.60) scale(1 0.9252)" font-size="37.01" fill="#37444b" textLength="18.76" lengthAdjust="spacingAndGlyphs">2</text>
<text transform="translate(701.76 1859.50) scale(1 0.9906)" font-size="34.17" fill="#37444b" textLength="17.32" lengthAdjust="spacingAndGlyphs">4</text>
<text transform="translate(845.16 1826.33) scale(1 0.9557)" font-size="35.33" fill="#37444b" textLength="17.91" lengthAdjust="spacingAndGlyphs">6</text>
<text transform="translate(961.11 1810.83) scale(1 1.0163)" font-size="33.03" fill="#37444b" textLength="16.74" lengthAdjust="spacingAndGlyphs">8</text>
<text transform="matrix(1.3288 -0.2896 1.0118 0.6727 388.19 1878.82)" font-size="20" text-anchor="middle" font-family="Liberation Sans, sans-serif" font-weight="normal" fill="#37444b" stroke="#37444b" stroke-width="1.0">0.0</text>
<text transform="matrix(1.3288 -0.2896 1.0118 0.6727 325.73 1837.40)" font-size="20" text-anchor="middle" font-family="Liberation Sans, sans-serif" font-weight="normal" fill="#37444b" stroke="#37444b" stroke-width="1.0">0.2</text>
<text transform="matrix(1.3288 -0.2896 1.0118 0.6727 263.27 1795.98)" font-size="20" text-anchor="middle" font-family="Liberation Sans, sans-serif" font-weight="normal" fill="#37444b" stroke="#37444b" stroke-width="1.0">0.4</text>
<text transform="matrix(1.3288 -0.2896 1.0118 0.6727 200.81 1754.56)" font-size="20" text-anchor="middle" font-family="Liberation Sans, sans-serif" font-weight="normal" fill="#37444b" stroke="#37444b" stroke-width="1.0">0.6</text>
<text transform="matrix(1.3288 -0.2896 1.0118 0.6727 138.35 1713.14)" font-size="20" text-anchor="middle" font-family="Liberation Sans, sans-serif" font-weight="normal" fill="#37444b" stroke="#37444b" stroke-width="1.0">0.8</text>
<text transform="matrix(1.3288 -0.2896 1.0118 0.6727 75.89 1671.72)" font-size="20" text-anchor="middle" font-family="Liberation Sans, sans-serif" font-weight="normal" fill="#37444b" stroke="#37444b" stroke-width="1.0">1.0</text>
<path d="M409.5 1871.5l8.8 -1.9M393.5 1860.8l5.9 -1.3M377.4 1850.2l5.9 -1.3M361.4 1839.5l5.9 -1.3M345.3 1828.8l8.8 -1.9M329.3 1818.2l5.9 -1.3M313.3 1807.5l5.9 -1.3M297.2 1796.8l5.9 -1.3M281.2 1786.2l8.8 -1.9M265.1 1775.5l5.9 -1.3M249.1 1764.8l5.9 -1.3M233.1 1754.2l5.9 -1.3M217.0 1743.5l8.8 -1.9M201.0 1732.9l5.9 -1.3M184.9 1722.2l5.9 -1.3M168.9 1711.5l5.9 -1.3M152.9 1700.9l8.8 -1.9M136.8 1690.2l5.9 -1.3M120.8 1679.5l5.9 -1.3M104.7 1668.9l5.9 -1.3M88.7 1658.2l8.8 -1.9" stroke="#37444b" stroke-width="1.5" fill="none"/>
<path d="M88.7 1658.2L409.5 1871.5M409.5 1871.5L902.8 1764.0" stroke="#37444b" stroke-width="2" fill="none"/>
<path d="M480.0 1856.1l-4.2 -2.8M550.4 1840.8l-4.2 -2.8M620.9 1825.4l-4.2 -2.8M691.4 1810.1l-4.2 -2.8M761.9 1794.7l-4.2 -2.8M832.3 1779.3l-4.2 -2.8M902.8 1764.0l-4.2 -2.8M973.3 1748.6l-4.2 -2.8" stroke="#37444b" stroke-width="1.4" fill="none"/>
<text transform="translate(176.2 1798.0) rotate(-134.0)" font-size="42.0" text-anchor="middle" fill="#37444b" dy="0.33em" textLength="52.69" lengthAdjust="spacingAndGlyphs">r/a</text>
<text transform="translate(772.5 1898.0) rotate(-13.5) scale(1 1.06)" font-size="40.5" text-anchor="middle" fill="#37444b" dy="0.35em" textLength="99.29" lengthAdjust="spacingAndGlyphs">Mode</text>
<defs><pattern id="hatchR" patternUnits="userSpaceOnUse" width="600" height="2.8" patternTransform="rotate(-11.8)"><rect width="600" height="2.8" fill="#a2adb9"/><rect y="0" width="600" height="1.35" fill="#37444b"/></pattern></defs>
<polygon points="1491.0,1877.1 2002.7,1770.5 1668.0,1559.4 1156.3,1666.0" fill="url(#hatchR)" stroke="#37444b" stroke-width="1.6"/>
<path d="M1564.1 1861.9L1229.4 1650.8M1637.2 1846.6L1302.5 1635.5M1710.3 1831.4L1375.6 1620.3M1783.4 1816.2L1448.7 1605.1M1856.5 1800.9L1521.8 1589.8M1929.6 1785.7L1594.9 1574.6" stroke="#37444b" stroke-width="1.8" fill="none"/>
<polygon points="1491.0,1877.1 1425.2,1831.2 1452.0,1813.0 1489.6,1799.7 1537.5,1805.2 1569.0,1803.8 1600.0,1808.0 1633.4,1845.5" fill="#fff" stroke="none" stroke-width="0" stroke-linejoin="round"/>
<path d="M1425.2 1831.2L1452.0 1813.0M1452.0 1813.0L1489.6 1799.7M1489.6 1799.7L1537.5 1805.2M1537.5 1805.2L1569.0 1803.8M1569.0 1803.8L1600.0 1808.0M1600.0 1808.0L1633.4 1845.5" stroke="#37444b" stroke-width="1.8" fill="none" stroke-linecap="round"/>
<path d="M1425.2 1831.2L1489.6 1799.7M1427.8 1833.0L1492.6 1802.2M1430.5 1834.9L1495.5 1804.6M1433.1 1836.7L1498.5 1807.1M1435.7 1838.5L1501.4 1809.6M1438.4 1840.4L1504.4 1812.0M1441.0 1842.2L1507.4 1814.5M1443.6 1844.1L1510.3 1817.0M1446.3 1845.9L1513.3 1819.4M1448.9 1847.7L1516.2 1821.9M1451.5 1849.6L1519.2 1824.4M1454.2 1851.4L1522.2 1826.8M1456.8 1853.2L1525.1 1829.3M1459.4 1855.1L1528.1 1831.8M1462.0 1856.9L1531.0 1834.3M1464.7 1858.7L1534.0 1836.7M1467.3 1860.6L1537.0 1839.2M1469.9 1862.4L1539.9 1841.7M1472.6 1864.2L1542.9 1844.1M1475.2 1866.1L1545.8 1846.6M1477.8 1867.9L1548.8 1849.1M1480.5 1869.8L1551.8 1851.5M1483.1 1871.6L1554.7 1854.0M1485.7 1873.4L1557.7 1856.5M1488.4 1875.3L1560.6 1858.9M1491.0 1877.1L1563.6 1861.4" stroke="#37444b" stroke-width="1.0" fill="none" stroke-linecap="round"/>
<path d="M1489.6 1799.7L1425.2 1831.2M1496.4 1800.5L1434.6 1837.8M1503.3 1801.3L1444.0 1844.3M1510.1 1802.1L1453.4 1850.9M1517.0 1802.8L1462.8 1857.4M1523.8 1803.6L1472.2 1864.0M1530.7 1804.4L1481.6 1870.5M1537.5 1805.2L1491.0 1877.1" stroke="#37444b" stroke-width="1.0" fill="none" stroke-linecap="round"/>
<path d="M1537.5 1805.2L1600.0 1808.0M1538.7 1807.9L1601.6 1809.8M1540.0 1810.6L1603.2 1811.6M1541.2 1813.2L1604.8 1813.4M1542.5 1815.9L1606.4 1815.1M1543.7 1818.6L1608.0 1816.9M1545.0 1821.3L1609.5 1818.7M1546.2 1823.9L1611.1 1820.5M1547.4 1826.6L1612.7 1822.3M1548.7 1829.3L1614.3 1824.1M1549.9 1832.0L1615.9 1825.9M1551.2 1834.6L1617.5 1827.6M1552.4 1837.3L1619.1 1829.4M1553.7 1840.0L1620.7 1831.2M1554.9 1842.7L1622.3 1833.0M1556.1 1845.3L1623.9 1834.8M1557.4 1848.0L1625.4 1836.6M1558.6 1850.7L1627.0 1838.4M1559.9 1853.4L1628.6 1840.1M1561.1 1856.0L1630.2 1841.9M1562.4 1858.7L1631.8 1843.7M1563.6 1861.4L1633.4 1845.5" stroke="#37444b" stroke-width="1.0" fill="none" stroke-linecap="round"/>
<path d="M1537.5 1805.2L1563.6 1861.4" stroke="#37444b" stroke-width="1.6" fill="none" stroke-linecap="round"/>
<polygon points="1440.0,1822.0 1489.6,1799.7 1470.0,1816.0 1445.0,1830.0" fill="#37444b" stroke="none" stroke-width="0" stroke-linejoin="round"/>
<polygon points="1556.0,1806.0 1600.0,1808.0 1625.0,1838.0 1596.0,1826.0" fill="#37444b" stroke="none" stroke-width="0" stroke-linejoin="round"/>
<path d="M2075.6 1755.8V1227.8" stroke="#37444b" stroke-width="2" fill="none"/>
<path d="M2075.6 1755.8l-11.0 2.4M2075.6 1734.7l-6.1 1.3M2075.6 1713.6l-6.1 1.3M2075.6 1692.4l-6.1 1.3M2075.6 1671.3l-6.1 1.3M2075.6 1650.2l-11.0 2.4M2075.6 1629.1l-6.1 1.3M2075.6 1608.0l-6.1 1.3M2075.6 1586.8l-6.1 1.3M2075.6 1565.7l-6.1 1.3M2075.6 1544.6l-11.0 2.4M2075.6 1523.5l-6.1 1.3M2075.6 1502.4l-6.1 1.3M2075.6 1481.2l-6.1 1.3M2075.6 1460.1l-6.1 1.3M2075.6 1439.0l-11.0 2.4M2075.6 1417.9l-6.1 1.3M2075.6 1396.8l-6.1 1.3M2075.6 1375.6l-6.1 1.3M2075.6 1354.5l-6.1 1.3M2075.6 1333.4l-11.0 2.4M2075.6 1312.3l-6.1 1.3M2075.6 1291.2l-6.1 1.3M2075.6 1270.0l-6.1 1.3M2075.6 1248.9l-6.1 1.3M2075.6 1227.8l-11.0 2.4" stroke="#37444b" stroke-width="1.6" fill="none"/>
<path d="M2002.7 1770.5L2075.8 1755.3L2075.6 1755.8" stroke="#37444b" stroke-width="1.8" fill="none"/>
<text transform="translate(1370.84 1168.09) scale(1 0.9788)" font-size="42.20" fill="#37444b" textLength="343.56" lengthAdjust="spacingAndGlyphs">contours at 4.64 ms</text>
<text transform="translate(1343.62 1171.71) scale(1 1.0041)" font-size="37.45" fill="#37444b" textLength="9.56" lengthAdjust="spacingAndGlyphs">j</text>
<text transform="translate(1337.83 1136.07) scale(1 0.8900)" font-size="38.26" fill="#37444b" textLength="19.06" lengthAdjust="spacingAndGlyphs">~</text>
<text transform="translate(2095.88 1226.92) scale(1 1.0117)" font-size="35.82" fill="#37444b" textLength="82.19" lengthAdjust="spacingAndGlyphs">0.025</text>
<text transform="translate(2095.88 1333.42) scale(1 1.0117)" font-size="35.82" fill="#37444b" textLength="64.03" lengthAdjust="spacingAndGlyphs">0.02</text>
<text transform="translate(2095.88 1439.92) scale(1 1.0117)" font-size="35.82" fill="#37444b" textLength="82.19" lengthAdjust="spacingAndGlyphs">0.015</text>
<text transform="translate(2095.88 1546.42) scale(1 1.0117)" font-size="35.82" fill="#37444b" textLength="64.03" lengthAdjust="spacingAndGlyphs">0.01</text>
<text transform="translate(2095.88 1652.92) scale(1 1.0117)" font-size="35.82" fill="#37444b" textLength="82.19" lengthAdjust="spacingAndGlyphs">0.005</text>
<text transform="translate(2095.88 1759.42) scale(1 1.0117)" font-size="35.82" fill="#37444b" textLength="45.88" lengthAdjust="spacingAndGlyphs">0.0</text>
<text transform="translate(1500.29 1925.32) scale(1 1.0105)" font-size="35.27" fill="#37444b" textLength="17.88" lengthAdjust="spacingAndGlyphs">0</text>
<text transform="translate(1651.19 1892.40) scale(1 0.8936)" font-size="37.47" fill="#37444b" textLength="18.99" lengthAdjust="spacingAndGlyphs">2</text>
<text transform="translate(1798.17 1864.50) scale(1 1.0846)" font-size="33.33" fill="#37444b" textLength="16.90" lengthAdjust="spacingAndGlyphs">4</text>
<text transform="translate(1949.37 1831.93) scale(1 0.9411)" font-size="35.11" fill="#37444b" textLength="17.80" lengthAdjust="spacingAndGlyphs">6</text>
<text transform="translate(2067.15 1818.24) scale(1 0.8965)" font-size="35.06" fill="#37444b" textLength="17.77" lengthAdjust="spacingAndGlyphs">8</text>
<text transform="matrix(1.3314 -0.2774 1.0277 0.6482 1468.21 1883.79)" font-size="20" text-anchor="middle" font-family="Liberation Sans, sans-serif" font-weight="normal" fill="#37444b" stroke="#37444b" stroke-width="1.0">0.0</text>
<text transform="matrix(1.3314 -0.2774 1.0277 0.6482 1403.28 1843.02)" font-size="20" text-anchor="middle" font-family="Liberation Sans, sans-serif" font-weight="normal" fill="#37444b" stroke="#37444b" stroke-width="1.0">0.2</text>
<text transform="matrix(1.3314 -0.2774 1.0277 0.6482 1338.35 1802.25)" font-size="20" text-anchor="middle" font-family="Liberation Sans, sans-serif" font-weight="normal" fill="#37444b" stroke="#37444b" stroke-width="1.0">0.4</text>
<text transform="matrix(1.3314 -0.2774 1.0277 0.6482 1273.42 1761.48)" font-size="20" text-anchor="middle" font-family="Liberation Sans, sans-serif" font-weight="normal" fill="#37444b" stroke="#37444b" stroke-width="1.0">0.6</text>
<text transform="matrix(1.3314 -0.2774 1.0277 0.6482 1208.49 1720.71)" font-size="20" text-anchor="middle" font-family="Liberation Sans, sans-serif" font-weight="normal" fill="#37444b" stroke="#37444b" stroke-width="1.0">0.8</text>
<text transform="matrix(1.3314 -0.2774 1.0277 0.6482 1143.56 1679.94)" font-size="20" text-anchor="middle" font-family="Liberation Sans, sans-serif" font-weight="normal" fill="#37444b" stroke="#37444b" stroke-width="1.0">1.0</text>
<path d="M1491.0 1877.1l8.8 -1.8M1474.3 1866.5l5.9 -1.2M1457.5 1856.0l5.9 -1.2M1440.8 1845.4l5.9 -1.2M1424.1 1834.9l8.8 -1.8M1407.3 1824.3l5.9 -1.2M1390.6 1813.8l5.9 -1.2M1373.9 1803.2l5.9 -1.2M1357.1 1792.7l8.8 -1.8M1340.4 1782.1l5.9 -1.2M1323.7 1771.5l5.9 -1.2M1306.9 1761.0l5.9 -1.2M1290.2 1750.4l8.8 -1.8M1273.4 1739.9l5.9 -1.2M1256.7 1729.3l5.9 -1.2M1240.0 1718.8l5.9 -1.2M1223.2 1708.2l8.8 -1.8M1206.5 1697.7l5.9 -1.2M1189.8 1687.1l5.9 -1.2M1173.0 1676.6l5.9 -1.2M1156.3 1666.0l8.8 -1.8" stroke="#37444b" stroke-width="1.5" fill="none"/>
<path d="M1156.3 1666.0L1491.0 1877.1M1491.0 1877.1L2002.7 1770.5" stroke="#37444b" stroke-width="2" fill="none"/>
<path d="M1564.1 1861.9l-4.2 -2.7M1637.2 1846.6l-4.2 -2.7M1710.3 1831.4l-4.2 -2.7M1783.4 1816.2l-4.2 -2.7M1856.5 1800.9l-4.2 -2.7M1929.6 1785.7l-4.2 -2.7M2002.7 1770.5l-4.2 -2.7M2075.8 1755.3l-4.2 -2.7" stroke="#37444b" stroke-width="1.4" fill="none"/>
<text transform="translate(1232.9 1798.3) rotate(-139.0)" font-size="43.0" text-anchor="middle" fill="#37444b" dy="0.33em" textLength="53.94" lengthAdjust="spacingAndGlyphs">r/a</text>
<text transform="translate(1871.5 1904.0) rotate(-13.5) scale(1 1.06)" font-size="42.0" text-anchor="middle" fill="#37444b" dy="0.35em" textLength="102.97" lengthAdjust="spacingAndGlyphs">Mode</text>
</svg></body></html>
